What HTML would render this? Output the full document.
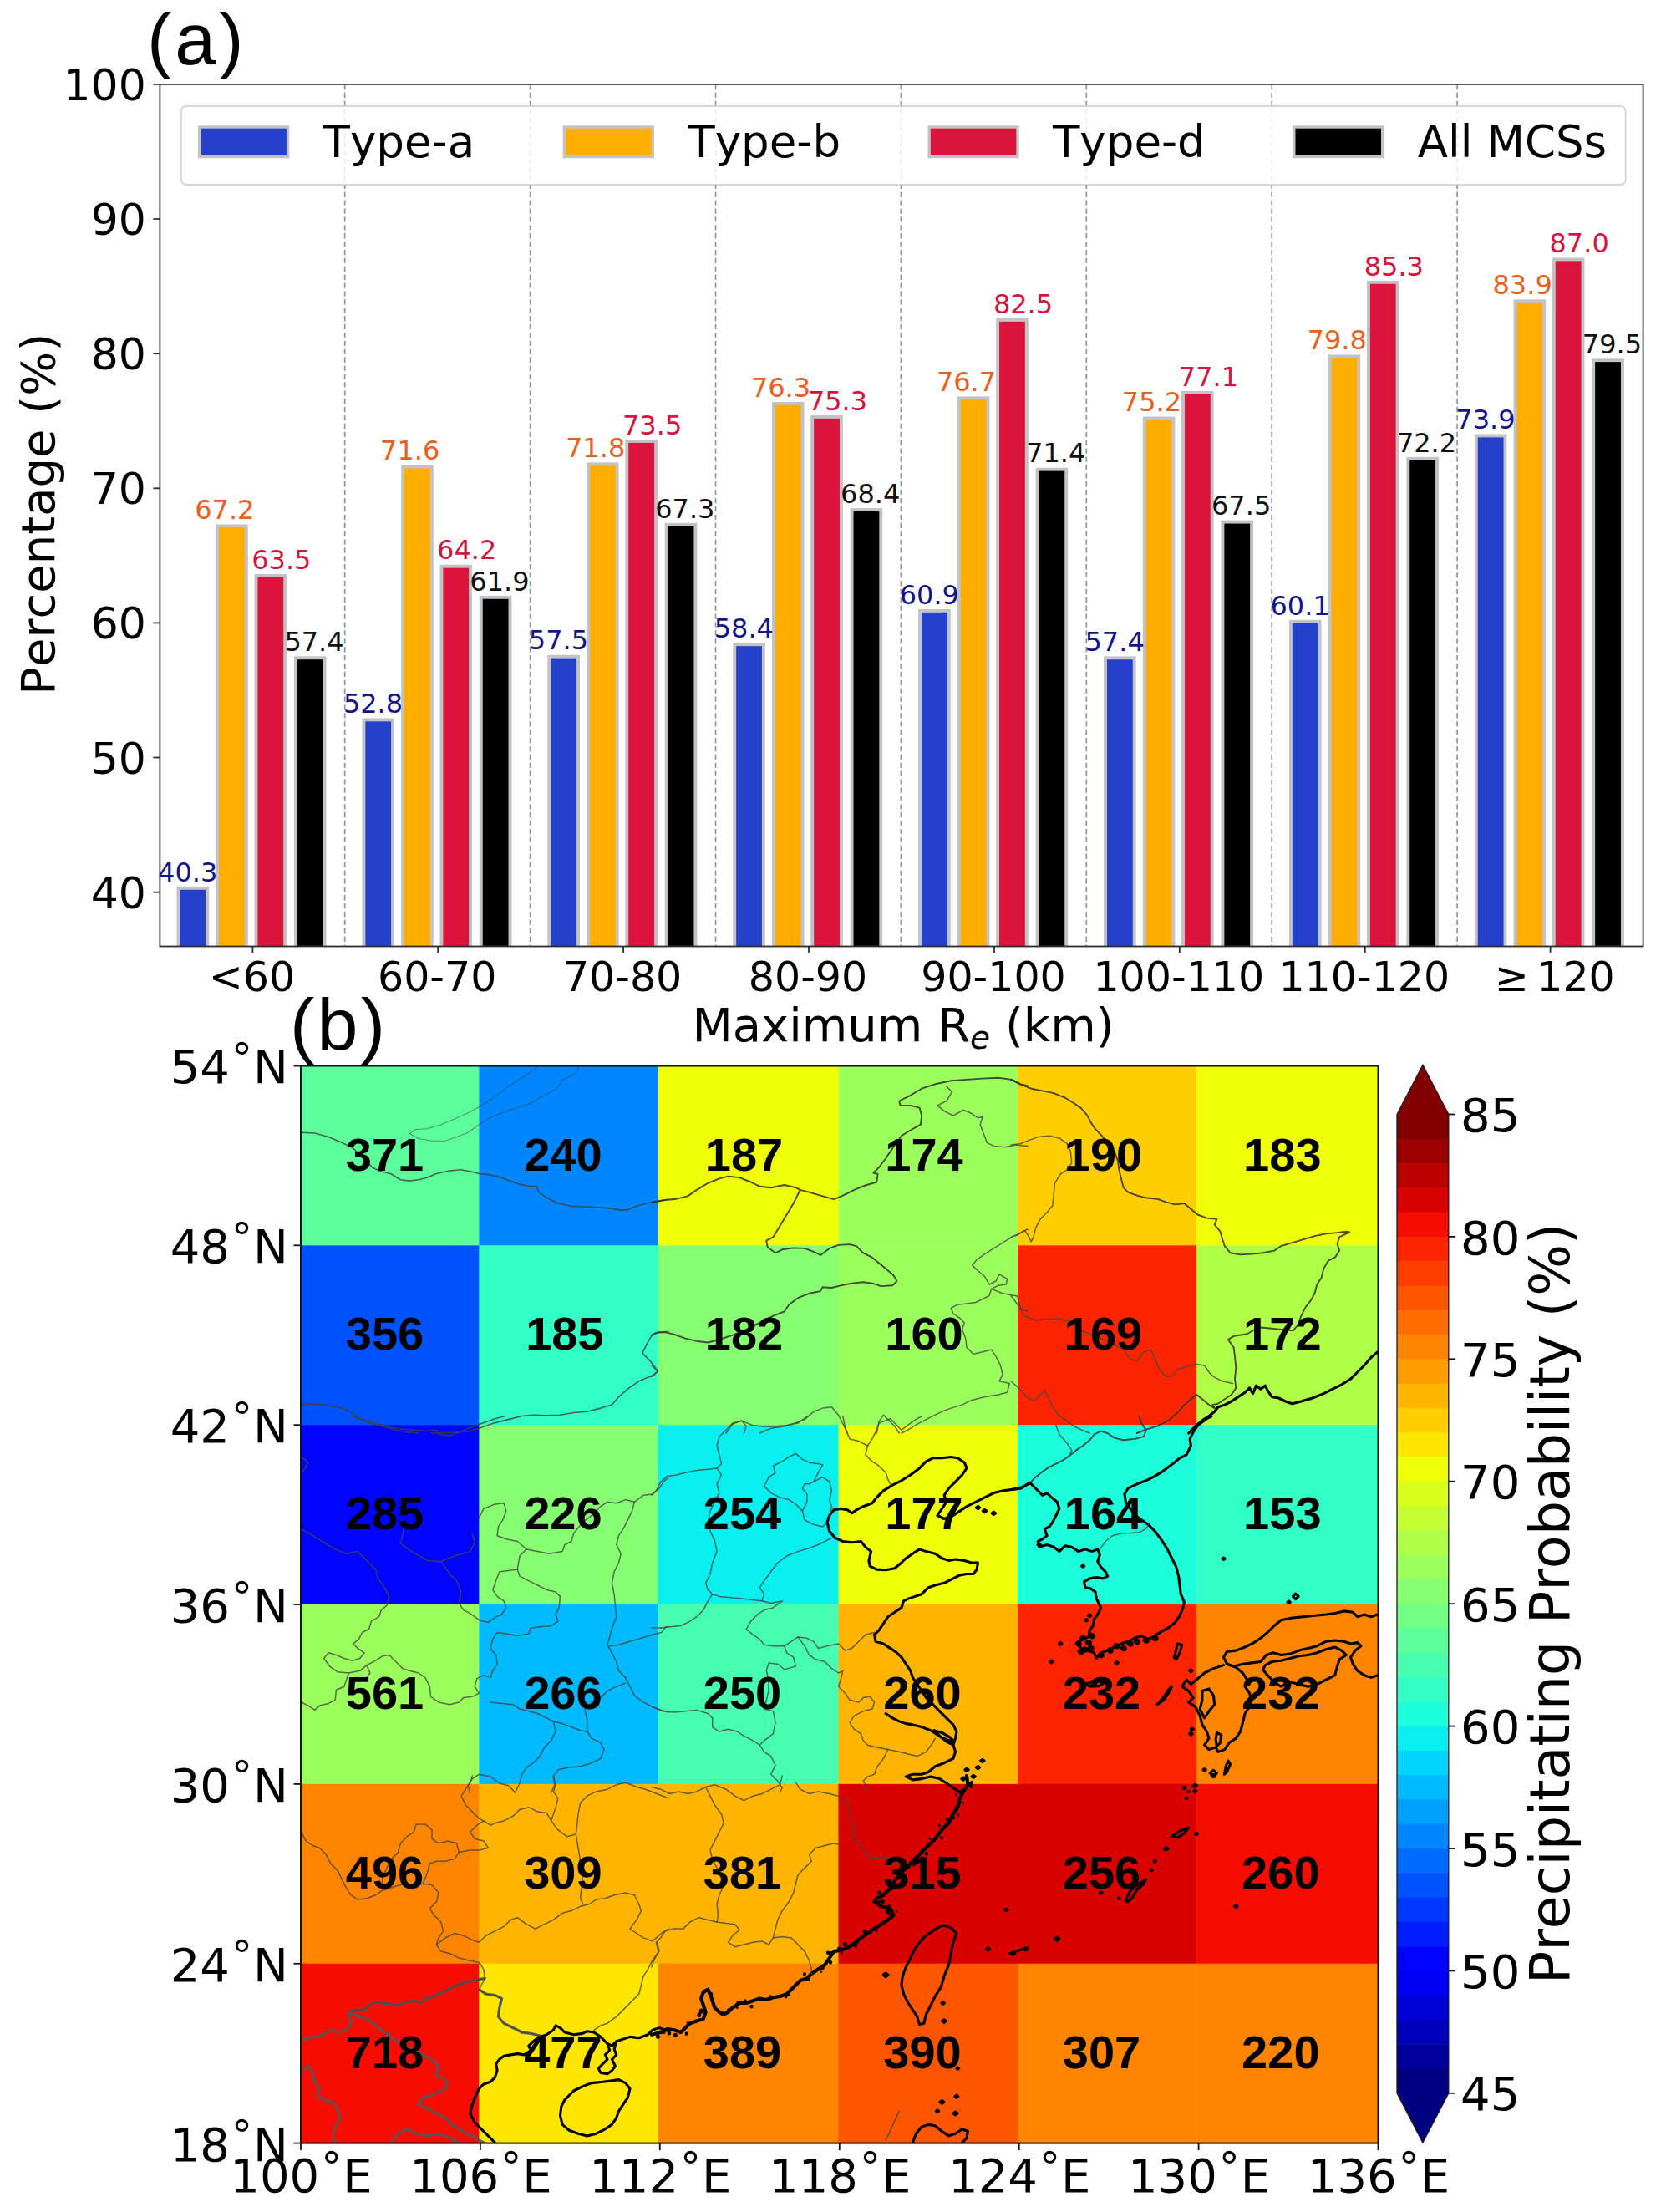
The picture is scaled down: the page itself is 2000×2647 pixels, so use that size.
<!DOCTYPE html>
<html lang="en"><head><meta charset="utf-8"><title>Figure</title>
<style>html,body{margin:0;padding:0;background:#fff}body{width:2000px;height:2647px;overflow:hidden}svg{display:block}text{font-kerning:none}</style>
</head><body>
<svg width="2000" height="2647" viewBox="0 0 2000 2647"><defs><clipPath id="mapclip"><rect x="360.0" y="1275.5" width="1289.5" height="1289.1"/></clipPath></defs>
<rect x="0" y="0" width="2000" height="2647" fill="#fff"/>
<line x1="412.7" y1="100.9" x2="412.7" y2="1132.5" stroke="#959595" stroke-width="1.7" stroke-dasharray="6.3 3.6"/>
<line x1="634.6" y1="100.9" x2="634.6" y2="1132.5" stroke="#959595" stroke-width="1.7" stroke-dasharray="6.3 3.6"/>
<line x1="856.5" y1="100.9" x2="856.5" y2="1132.5" stroke="#959595" stroke-width="1.7" stroke-dasharray="6.3 3.6"/>
<line x1="1078.4" y1="100.9" x2="1078.4" y2="1132.5" stroke="#959595" stroke-width="1.7" stroke-dasharray="6.3 3.6"/>
<line x1="1300.3" y1="100.9" x2="1300.3" y2="1132.5" stroke="#959595" stroke-width="1.7" stroke-dasharray="6.3 3.6"/>
<line x1="1522.2" y1="100.9" x2="1522.2" y2="1132.5" stroke="#959595" stroke-width="1.7" stroke-dasharray="6.3 3.6"/>
<line x1="1744.1" y1="100.9" x2="1744.1" y2="1132.5" stroke="#959595" stroke-width="1.7" stroke-dasharray="6.3 3.6"/>
<rect x="213.5" y="1062.8" width="34.7" height="75.7" fill="#2541cb" stroke="#c3c3c7" stroke-width="3.9"/>
<rect x="435.4" y="861.4" width="34.7" height="277.1" fill="#2541cb" stroke="#c3c3c7" stroke-width="3.9"/>
<rect x="657.3" y="785.7" width="34.7" height="352.8" fill="#2541cb" stroke="#c3c3c7" stroke-width="3.9"/>
<rect x="879.2" y="771.2" width="34.7" height="367.3" fill="#2541cb" stroke="#c3c3c7" stroke-width="3.9"/>
<rect x="1101.1" y="730.9" width="34.7" height="407.6" fill="#2541cb" stroke="#c3c3c7" stroke-width="3.9"/>
<rect x="1323.0" y="787.3" width="34.7" height="351.2" fill="#2541cb" stroke="#c3c3c7" stroke-width="3.9"/>
<rect x="1544.9" y="743.8" width="34.7" height="394.7" fill="#2541cb" stroke="#c3c3c7" stroke-width="3.9"/>
<rect x="1766.8" y="521.4" width="34.7" height="617.1" fill="#2541cb" stroke="#c3c3c7" stroke-width="3.9"/>
<rect x="260.2" y="629.4" width="34.7" height="509.1" fill="#ffad00" stroke="#c3c3c7" stroke-width="3.9"/>
<rect x="482.1" y="558.5" width="34.7" height="580.0" fill="#ffad00" stroke="#c3c3c7" stroke-width="3.9"/>
<rect x="704.0" y="555.3" width="34.7" height="583.2" fill="#ffad00" stroke="#c3c3c7" stroke-width="3.9"/>
<rect x="925.9" y="482.8" width="34.7" height="655.7" fill="#ffad00" stroke="#c3c3c7" stroke-width="3.9"/>
<rect x="1147.8" y="476.3" width="34.7" height="662.2" fill="#ffad00" stroke="#c3c3c7" stroke-width="3.9"/>
<rect x="1369.7" y="500.5" width="34.7" height="638.0" fill="#ffad00" stroke="#c3c3c7" stroke-width="3.9"/>
<rect x="1591.6" y="426.4" width="34.7" height="712.1" fill="#ffad00" stroke="#c3c3c7" stroke-width="3.9"/>
<rect x="1813.5" y="360.3" width="34.7" height="778.2" fill="#ffad00" stroke="#c3c3c7" stroke-width="3.9"/>
<rect x="306.5" y="689.0" width="34.7" height="449.5" fill="#dc143c" stroke="#c3c3c7" stroke-width="3.9"/>
<rect x="528.4" y="677.7" width="34.7" height="460.8" fill="#dc143c" stroke="#c3c3c7" stroke-width="3.9"/>
<rect x="750.3" y="527.9" width="34.7" height="610.6" fill="#dc143c" stroke="#c3c3c7" stroke-width="3.9"/>
<rect x="972.2" y="498.9" width="34.7" height="639.6" fill="#dc143c" stroke="#c3c3c7" stroke-width="3.9"/>
<rect x="1194.1" y="382.9" width="34.7" height="755.6" fill="#dc143c" stroke="#c3c3c7" stroke-width="3.9"/>
<rect x="1416.0" y="469.9" width="34.7" height="668.6" fill="#dc143c" stroke="#c3c3c7" stroke-width="3.9"/>
<rect x="1637.9" y="337.8" width="34.7" height="800.7" fill="#dc143c" stroke="#c3c3c7" stroke-width="3.9"/>
<rect x="1859.8" y="310.4" width="34.7" height="828.1" fill="#dc143c" stroke="#c3c3c7" stroke-width="3.9"/>
<rect x="353.9" y="787.3" width="34.7" height="351.2" fill="#000000" stroke="#c3c3c7" stroke-width="3.9"/>
<rect x="575.8" y="714.8" width="34.7" height="423.7" fill="#000000" stroke="#c3c3c7" stroke-width="3.9"/>
<rect x="797.7" y="627.8" width="34.7" height="510.7" fill="#000000" stroke="#c3c3c7" stroke-width="3.9"/>
<rect x="1019.6" y="610.1" width="34.7" height="528.4" fill="#000000" stroke="#c3c3c7" stroke-width="3.9"/>
<rect x="1241.5" y="561.7" width="34.7" height="576.8" fill="#000000" stroke="#c3c3c7" stroke-width="3.9"/>
<rect x="1463.4" y="624.6" width="34.7" height="513.9" fill="#000000" stroke="#c3c3c7" stroke-width="3.9"/>
<rect x="1685.3" y="548.8" width="34.7" height="589.7" fill="#000000" stroke="#c3c3c7" stroke-width="3.9"/>
<rect x="1907.2" y="431.2" width="34.7" height="707.3" fill="#000000" stroke="#c3c3c7" stroke-width="3.9"/>
<rect x="188.4" y="1132.5" width="1781.1999999999998" height="12" fill="#fff"/>
<text x="189.1" y="1054.5" style="font-family:'DejaVu Sans','Liberation Sans',sans-serif;font-size:32px" fill="#15158a">40.3</text>
<text x="410.9" y="853.1" style="font-family:'DejaVu Sans','Liberation Sans',sans-serif;font-size:32px" fill="#15158a">52.8</text>
<text x="632.8" y="777.4" style="font-family:'DejaVu Sans','Liberation Sans',sans-serif;font-size:32px" fill="#15158a">57.5</text>
<text x="854.7" y="762.9" style="font-family:'DejaVu Sans','Liberation Sans',sans-serif;font-size:32px" fill="#15158a">58.4</text>
<text x="1076.7" y="722.6" style="font-family:'DejaVu Sans','Liberation Sans',sans-serif;font-size:32px" fill="#15158a">60.9</text>
<text x="1298.5" y="779.0" style="font-family:'DejaVu Sans','Liberation Sans',sans-serif;font-size:32px" fill="#15158a">57.4</text>
<text x="1520.5" y="735.5" style="font-family:'DejaVu Sans','Liberation Sans',sans-serif;font-size:32px" fill="#15158a">60.1</text>
<text x="1742.3" y="513.1" style="font-family:'DejaVu Sans','Liberation Sans',sans-serif;font-size:32px" fill="#15158a">73.9</text>
<text x="233.2" y="621.1" style="font-family:'DejaVu Sans','Liberation Sans',sans-serif;font-size:32px" fill="#e8601c">67.2</text>
<text x="455.1" y="550.2" style="font-family:'DejaVu Sans','Liberation Sans',sans-serif;font-size:32px" fill="#e8601c">71.6</text>
<text x="677.0" y="547.0" style="font-family:'DejaVu Sans','Liberation Sans',sans-serif;font-size:32px" fill="#e8601c">71.8</text>
<text x="898.9" y="474.5" style="font-family:'DejaVu Sans','Liberation Sans',sans-serif;font-size:32px" fill="#e8601c">76.3</text>
<text x="1120.9" y="468.0" style="font-family:'DejaVu Sans','Liberation Sans',sans-serif;font-size:32px" fill="#e8601c">76.7</text>
<text x="1342.8" y="492.2" style="font-family:'DejaVu Sans','Liberation Sans',sans-serif;font-size:32px" fill="#e8601c">75.2</text>
<text x="1564.7" y="418.1" style="font-family:'DejaVu Sans','Liberation Sans',sans-serif;font-size:32px" fill="#e8601c">79.8</text>
<text x="1786.5" y="352.0" style="font-family:'DejaVu Sans','Liberation Sans',sans-serif;font-size:32px" fill="#e8601c">83.9</text>
<text x="301.2" y="680.7" style="font-family:'DejaVu Sans','Liberation Sans',sans-serif;font-size:32px" fill="#d3163f">63.5</text>
<text x="523.1" y="669.4" style="font-family:'DejaVu Sans','Liberation Sans',sans-serif;font-size:32px" fill="#d3163f">64.2</text>
<text x="745.0" y="519.6" style="font-family:'DejaVu Sans','Liberation Sans',sans-serif;font-size:32px" fill="#d3163f">73.5</text>
<text x="966.9" y="490.6" style="font-family:'DejaVu Sans','Liberation Sans',sans-serif;font-size:32px" fill="#d3163f">75.3</text>
<text x="1188.9" y="374.6" style="font-family:'DejaVu Sans','Liberation Sans',sans-serif;font-size:32px" fill="#d3163f">82.5</text>
<text x="1410.8" y="461.6" style="font-family:'DejaVu Sans','Liberation Sans',sans-serif;font-size:32px" fill="#d3163f">77.1</text>
<text x="1632.7" y="329.5" style="font-family:'DejaVu Sans','Liberation Sans',sans-serif;font-size:32px" fill="#d3163f">85.3</text>
<text x="1854.5" y="302.1" style="font-family:'DejaVu Sans','Liberation Sans',sans-serif;font-size:32px" fill="#d3163f">87.0</text>
<text x="340.4" y="779.0" style="font-family:'DejaVu Sans','Liberation Sans',sans-serif;font-size:32px" fill="#111111">57.4</text>
<text x="562.3" y="706.5" style="font-family:'DejaVu Sans','Liberation Sans',sans-serif;font-size:32px" fill="#111111">61.9</text>
<text x="784.2" y="619.5" style="font-family:'DejaVu Sans','Liberation Sans',sans-serif;font-size:32px" fill="#111111">67.3</text>
<text x="1006.1" y="601.8" style="font-family:'DejaVu Sans','Liberation Sans',sans-serif;font-size:32px" fill="#111111">68.4</text>
<text x="1228.1" y="553.4" style="font-family:'DejaVu Sans','Liberation Sans',sans-serif;font-size:32px" fill="#111111">71.4</text>
<text x="1450.0" y="616.3" style="font-family:'DejaVu Sans','Liberation Sans',sans-serif;font-size:32px" fill="#111111">67.5</text>
<text x="1671.9" y="540.5" style="font-family:'DejaVu Sans','Liberation Sans',sans-serif;font-size:32px" fill="#111111">72.2</text>
<text x="1893.8" y="422.9" style="font-family:'DejaVu Sans','Liberation Sans',sans-serif;font-size:32px" fill="#111111">79.5</text>
<rect x="217" y="127" width="1728.6" height="94" rx="6" ry="6" fill="#fff" fill-opacity="0.82" stroke="#cccccc" stroke-opacity="0.8" stroke-width="1.8"/>
<rect x="238.7" y="152.0" width="105.9" height="35.5" fill="#2541cb" stroke="#c3c3c7" stroke-width="3.4"/>
<text x="386.6" y="188.4" style="font-family:'DejaVu Sans','Liberation Sans',sans-serif;font-size:53px" fill="#000">Type-a</text>
<rect x="675.4" y="152.0" width="105.9" height="35.5" fill="#ffad00" stroke="#c3c3c7" stroke-width="3.4"/>
<text x="823.3" y="188.4" style="font-family:'DejaVu Sans','Liberation Sans',sans-serif;font-size:53px" fill="#000">Type-b</text>
<rect x="1112.1" y="152.0" width="105.9" height="35.5" fill="#dc143c" stroke="#c3c3c7" stroke-width="3.4"/>
<text x="1260.0" y="188.4" style="font-family:'DejaVu Sans','Liberation Sans',sans-serif;font-size:53px" fill="#000">Type-d</text>
<rect x="1548.8" y="152.0" width="105.9" height="35.5" fill="#000000" stroke="#c3c3c7" stroke-width="3.4"/>
<text x="1696.7" y="188.4" style="font-family:'DejaVu Sans','Liberation Sans',sans-serif;font-size:53px" fill="#000">All MCSs</text>
<rect x="191.4" y="100.9" width="1775.2" height="1031.6" fill="none" stroke="#2e2e2e" stroke-width="1.8"/>
<line x1="183.4" y1="1067.7" x2="191.4" y2="1067.7" stroke="#2e2e2e" stroke-width="1.8"/>
<text x="174.8" y="1086.7" text-anchor="end" style="font-family:'DejaVu Sans','Liberation Sans',sans-serif;font-size:52px" fill="#000">40</text>
<line x1="183.4" y1="906.5" x2="191.4" y2="906.5" stroke="#2e2e2e" stroke-width="1.8"/>
<text x="174.8" y="925.5" text-anchor="end" style="font-family:'DejaVu Sans','Liberation Sans',sans-serif;font-size:52px" fill="#000">50</text>
<line x1="183.4" y1="745.4" x2="191.4" y2="745.4" stroke="#2e2e2e" stroke-width="1.8"/>
<text x="174.8" y="764.4" text-anchor="end" style="font-family:'DejaVu Sans','Liberation Sans',sans-serif;font-size:52px" fill="#000">60</text>
<line x1="183.4" y1="584.3" x2="191.4" y2="584.3" stroke="#2e2e2e" stroke-width="1.8"/>
<text x="174.8" y="603.3" text-anchor="end" style="font-family:'DejaVu Sans','Liberation Sans',sans-serif;font-size:52px" fill="#000">70</text>
<line x1="183.4" y1="423.2" x2="191.4" y2="423.2" stroke="#2e2e2e" stroke-width="1.8"/>
<text x="174.8" y="442.2" text-anchor="end" style="font-family:'DejaVu Sans','Liberation Sans',sans-serif;font-size:52px" fill="#000">80</text>
<line x1="183.4" y1="262.0" x2="191.4" y2="262.0" stroke="#2e2e2e" stroke-width="1.8"/>
<text x="174.8" y="281.0" text-anchor="end" style="font-family:'DejaVu Sans','Liberation Sans',sans-serif;font-size:52px" fill="#000">90</text>
<line x1="183.4" y1="100.9" x2="191.4" y2="100.9" stroke="#2e2e2e" stroke-width="1.8"/>
<text x="174.8" y="119.9" text-anchor="end" style="font-family:'DejaVu Sans','Liberation Sans',sans-serif;font-size:52px" fill="#000">100</text>
<line x1="302.4" y1="1132.5" x2="302.4" y2="1140.1" stroke="#2e2e2e" stroke-width="1.8"/>
<text x="301.4" y="1186.3" text-anchor="middle" style="font-family:'DejaVu Sans','Liberation Sans',sans-serif;font-size:49px" fill="#000">&lt;60</text>
<line x1="524.2" y1="1132.5" x2="524.2" y2="1140.1" stroke="#2e2e2e" stroke-width="1.8"/>
<text x="523.2" y="1186.3" text-anchor="middle" style="font-family:'DejaVu Sans','Liberation Sans',sans-serif;font-size:49px" fill="#000">60-70</text>
<line x1="746.1" y1="1132.5" x2="746.1" y2="1140.1" stroke="#2e2e2e" stroke-width="1.8"/>
<text x="745.1" y="1186.3" text-anchor="middle" style="font-family:'DejaVu Sans','Liberation Sans',sans-serif;font-size:49px" fill="#000">70-80</text>
<line x1="968.0" y1="1132.5" x2="968.0" y2="1140.1" stroke="#2e2e2e" stroke-width="1.8"/>
<text x="967.0" y="1186.3" text-anchor="middle" style="font-family:'DejaVu Sans','Liberation Sans',sans-serif;font-size:49px" fill="#000">80-90</text>
<line x1="1190.0" y1="1132.5" x2="1190.0" y2="1140.1" stroke="#2e2e2e" stroke-width="1.8"/>
<text x="1189.0" y="1186.3" text-anchor="middle" style="font-family:'DejaVu Sans','Liberation Sans',sans-serif;font-size:49px" fill="#000">90-100</text>
<line x1="1411.8" y1="1132.5" x2="1411.8" y2="1140.1" stroke="#2e2e2e" stroke-width="1.8"/>
<text x="1410.8" y="1186.3" text-anchor="middle" style="font-family:'DejaVu Sans','Liberation Sans',sans-serif;font-size:49px" fill="#000">100-110</text>
<line x1="1633.8" y1="1132.5" x2="1633.8" y2="1140.1" stroke="#2e2e2e" stroke-width="1.8"/>
<text x="1632.8" y="1186.3" text-anchor="middle" style="font-family:'DejaVu Sans','Liberation Sans',sans-serif;font-size:49px" fill="#000">110-120</text>
<line x1="1855.6" y1="1132.5" x2="1855.6" y2="1140.1" stroke="#2e2e2e" stroke-width="1.8"/>
<text x="1932.8" y="1186.3" text-anchor="end" style="font-family:'DejaVu Sans','Liberation Sans',sans-serif;font-size:49px" fill="#000">≥<tspan dx="9.5">120</tspan></text>
<text transform="translate(64.7,615.2) rotate(-90)" text-anchor="middle" style="font-family:'DejaVu Sans','Liberation Sans',sans-serif;font-size:56px" fill="#000">Percentage (%)</text>
<text x="1081" y="1246.4" text-anchor="middle" style="font-family:'DejaVu Sans','Liberation Sans',sans-serif;font-size:56px" fill="#000">Maximum R<tspan dy="9" style="font-size:39px;font-style:italic">e</tspan><tspan dy="-9"> (km)</tspan></text>
<text x="176" y="77" style="font-family:'Liberation Sans',Arial,sans-serif;font-size:88px;letter-spacing:4px" fill="#000">(a)</text>
<text x="347" y="1255.5" style="font-family:'Liberation Sans',Arial,sans-serif;font-size:88px;letter-spacing:3.3px" fill="#000">(b)</text>
<rect x="360.00" y="1275.50" width="213.90" height="215.35" fill="#5cff9b"/>
<rect x="573.40" y="1275.50" width="215.10" height="215.35" fill="#0086ff"/>
<rect x="788.00" y="1275.50" width="216.00" height="215.35" fill="#effe07"/>
<rect x="1003.50" y="1275.50" width="215.00" height="215.35" fill="#9bff5c"/>
<rect x="1218.00" y="1275.50" width="214.80" height="215.35" fill="#ffce00"/>
<rect x="1432.30" y="1275.50" width="217.70" height="215.35" fill="#effe07"/>
<rect x="360.00" y="1490.35" width="213.90" height="215.35" fill="#0052ff"/>
<rect x="573.40" y="1490.35" width="215.10" height="215.35" fill="#32ffc5"/>
<rect x="788.00" y="1490.35" width="216.00" height="215.35" fill="#86ff71"/>
<rect x="1003.50" y="1490.35" width="215.00" height="215.35" fill="#9bff5c"/>
<rect x="1218.00" y="1490.35" width="214.80" height="215.35" fill="#ff2400"/>
<rect x="1432.30" y="1490.35" width="217.70" height="215.35" fill="#b0ff47"/>
<rect x="360.00" y="1705.20" width="213.90" height="215.35" fill="#0003ff"/>
<rect x="573.40" y="1705.20" width="215.10" height="215.35" fill="#86ff71"/>
<rect x="788.00" y="1705.20" width="216.00" height="215.35" fill="#07efef"/>
<rect x="1003.50" y="1705.20" width="215.00" height="215.35" fill="#effe07"/>
<rect x="1218.00" y="1705.20" width="214.80" height="215.35" fill="#1cffda"/>
<rect x="1432.30" y="1705.20" width="217.70" height="215.35" fill="#32ffc5"/>
<rect x="360.00" y="1920.05" width="213.90" height="215.35" fill="#9bff5c"/>
<rect x="573.40" y="1920.05" width="215.10" height="215.35" fill="#00baff"/>
<rect x="788.00" y="1920.05" width="216.00" height="215.35" fill="#47ffb0"/>
<rect x="1003.50" y="1920.05" width="215.00" height="215.35" fill="#ffb500"/>
<rect x="1218.00" y="1920.05" width="214.80" height="215.35" fill="#ff2400"/>
<rect x="1432.30" y="1920.05" width="217.70" height="215.35" fill="#ff8500"/>
<rect x="360.00" y="2134.90" width="213.90" height="215.35" fill="#ff8500"/>
<rect x="573.40" y="2134.90" width="215.10" height="215.35" fill="#ffb500"/>
<rect x="788.00" y="2134.90" width="216.00" height="215.35" fill="#ffb500"/>
<rect x="1003.50" y="2134.90" width="215.00" height="215.35" fill="#d90000"/>
<rect x="1218.00" y="2134.90" width="214.80" height="215.35" fill="#d90000"/>
<rect x="1432.30" y="2134.90" width="217.70" height="215.35" fill="#f60c00"/>
<rect x="360.00" y="2349.75" width="213.90" height="215.35" fill="#f60c00"/>
<rect x="573.40" y="2349.75" width="215.10" height="215.35" fill="#ffe600"/>
<rect x="788.00" y="2349.75" width="216.00" height="215.35" fill="#ff8500"/>
<rect x="1003.50" y="2349.75" width="215.00" height="215.35" fill="#ff5500"/>
<rect x="1218.00" y="2349.75" width="214.80" height="215.35" fill="#ff8500"/>
<rect x="1432.30" y="2349.75" width="217.70" height="215.35" fill="#ff8500"/>
<!--MAPLINES-->
<g clip-path="url(#mapclip)" fill="none" stroke-linejoin="round" stroke-linecap="round">
<path d="M360.2 1355.2 L376.9 1356.0 L393.1 1360.6 L407.9 1366.8 L420.6 1372.7 L433.5 1383.5 L445.6 1397.0 L453.7 1401.0 L468.5 1405.0 L479.3 1411.8 L490.0 1413.1 L500.8 1411.8 L511.6 1409.1 L522.4 1404.5 L538.5 1401.0 L550.6 1399.7 L562.7 1401.8 L573.5 1404.5 L584.3 1405.6 L597.8 1408.3 L608.5 1412.6 L619.3 1416.3 L630.1 1419.0 L642.2 1419.8 L644.9 1426.6 L654.3 1433.3 L667.8 1440.0 L683.9 1443.3 L700.1 1444.1 L716.3 1444.9 L732.4 1446.0 L741.8 1448.1 L751.3 1447.6 L762.0 1443.3 L775.5 1439.5 L787.6 1437.4 L800.0 1435.2" stroke="#404040" stroke-opacity="0.82" stroke-width="1.6"/>
<path d="M490.0 1356.6 L496.8 1351.7 L511.6 1350.6 L527.7 1345.8 L543.9 1339.1 L560.1 1331.8 L573.5 1324.8 L587.0 1316.2 L597.8 1308.1 L608.5 1300.0 L619.3 1293.3 L630.1 1286.5 L639.5 1279.8 L643.5 1275.8" stroke="#454545" stroke-opacity="0.55" stroke-width="1.1"/>
<path d="M490.0 1356.6 L500.8 1362.5 L517.0 1365.2 L533.1 1365.2 L546.6 1360.6 L560.1 1355.2 L573.5 1345.8 L587.0 1337.2 L603.1 1331.0 L619.3 1325.6 L635.5 1320.2 L646.2 1313.5 L657.0 1308.1 L667.8 1301.4 L671.8 1293.3 L681.2 1287.9 L689.9 1283.9 L693.4 1275.8" stroke="#454545" stroke-opacity="0.55" stroke-width="1.1"/>
<path d="M800.0 1593.5 L787.6 1594.1 L779.5 1598.9 L774.2 1608.4 L768.8 1619.1 L778.2 1628.6 L787.6 1640.7 L780.9 1646.1 L764.7 1652.8 L751.3 1662.2 L740.5 1671.6 L732.4 1681.1 L718.9 1685.1 L702.8 1689.2 L686.6 1690.5 L670.5 1693.2 L654.3 1693.7 L638.2 1693.2 L624.7 1694.5 L608.5 1698.6 L592.4 1702.6 L573.5 1709.3 L562.7 1712.6 L538.5 1714.2 L517.0 1715.0" stroke="#404040" stroke-opacity="0.82" stroke-width="1.6"/>
<path d="M360.2 1681.1 L376.9 1679.7 L393.1 1681.9 L409.2 1685.1 L422.7 1690.5 L430.8 1698.6 L441.6 1702.6 L457.7 1706.7 L471.2 1710.7 L484.7 1713.4 L500.8 1715.0" stroke="#404040" stroke-opacity="0.82" stroke-width="1.6"/>
<path d="M780.0 1438.7 L796.2 1436.0 L809.6 1434.7 L823.1 1431.4 L833.9 1423.9 L847.3 1415.8 L860.8 1410.4 L871.6 1407.7 L885.0 1409.1 L898.5 1414.5 L909.3 1419.8 L922.7 1421.2 L938.9 1418.0 L952.4 1421.2 L957.7 1423.9 L968.5 1426.6 L982.0 1430.6 L998.1 1435.2 L1008.9 1430.6 L1022.4 1423.9 L1035.8 1418.5 L1049.3 1414.5 L1050.6 1405.0 L1045.3 1403.7 L1052.0 1397.0 L1060.1 1386.2 L1065.5 1378.1 L1072.2 1368.7 L1078.9 1359.3 L1089.7 1352.5 L1101.8 1345.8 L1103.2 1335.0 L1100.5 1325.6 L1089.7 1322.9 L1077.6 1322.9 L1076.2 1317.5 L1089.7 1310.8 L1103.2 1302.7 L1119.3 1297.3 L1138.2 1293.3 L1157.0 1291.9 L1175.9 1290.6 L1194.7 1289.8 L1210.9 1291.9 L1221.7 1297.3 L1230.0 1299.5" stroke="#333" stroke-opacity="0.88" stroke-width="1.9"/>
<path d="M957.7 1423.9 L949.7 1440.0 L941.6 1453.5 L933.5 1467.0 L925.4 1480.4 L917.3 1484.5 L918.7 1492.6 L928.1 1499.3 L936.2 1495.3 L949.7 1493.4 L963.1 1493.9 L973.9 1497.9 L982.0 1502.0 L992.7 1493.9 L1003.5 1489.9 L1017.0 1489.1 L1025.1 1491.2 L1033.1 1499.3 L1043.9 1504.7 L1052.0 1511.4 L1060.1 1518.1 L1069.5 1526.2 L1073.5 1533.0 L1068.2 1538.3 L1054.7 1539.1 L1043.9 1535.6 L1033.1 1534.3 L1019.7 1535.6 L1006.2 1538.3 L995.4 1541.0 L984.7 1540.2 L982.0 1545.1 L968.5 1547.8 L955.0 1553.2 L944.3 1561.2 L938.9 1569.3 L925.4 1574.7 L909.3 1582.8 L893.1 1590.9 L876.9 1597.6 L860.8 1603.0 L847.3 1606.5 L833.9 1604.9 L820.4 1601.6 L806.9 1596.8 L796.2 1594.1 L785.4 1594.9 L780.0 1597.6" stroke="#333" stroke-opacity="0.88" stroke-width="1.9"/>
<path d="M1132.8 1300.0 L1139.5 1306.7 L1132.8 1317.5 L1122.0 1322.9 L1130.1 1329.6 L1140.9 1335.0 L1153.0 1328.3 L1162.4 1332.3 L1170.5 1337.7 L1175.9 1336.4 L1173.2 1345.8 L1177.2 1356.6 L1181.3 1367.3 L1189.3 1371.4 L1202.8 1372.7 L1216.3 1370.0 L1230.0 1371.4" stroke="#454545" stroke-opacity="0.8" stroke-width="1.5"/>
<path d="M1230.0 1471.0 L1221.7 1475.1 L1210.9 1480.4 L1200.1 1487.2 L1189.3 1493.9 L1178.6 1500.6 L1169.1 1507.4 L1163.8 1514.1 L1170.5 1520.8 L1178.6 1527.6 L1184.0 1537.0 L1192.0 1533.0 L1196.1 1524.9 L1205.5 1530.3 L1204.2 1537.0 L1194.7 1538.3 L1186.6 1542.4 L1184.0 1550.5 L1175.9 1554.5 L1167.8 1558.5 L1157.0 1559.9 L1146.3 1561.2 L1138.2 1565.3 L1140.9 1572.0 L1148.9 1577.4 L1154.3 1582.8 L1151.6 1590.9 L1155.7 1601.6 L1157.0 1612.4 L1165.1 1620.5 L1175.9 1617.8 L1186.6 1615.1 L1192.0 1623.2 L1197.4 1633.9 L1200.1 1644.7 L1196.1 1652.8 L1208.2 1655.5 L1205.5 1666.3 L1194.7 1669.0 L1178.6 1671.6 L1162.4 1675.7 L1151.6 1681.1 L1138.2 1685.1 L1127.4 1689.2 L1113.9 1695.9 L1100.5 1702.6 L1089.7 1709.3 L1078.9 1715.0" stroke="#454545" stroke-opacity="0.8" stroke-width="1.5"/>
<path d="M1186.6 1542.4 L1200.1 1547.8 L1217.6 1551.0 L1221.7 1566.6 L1230.0 1569.3" stroke="#454545" stroke-opacity="0.8" stroke-width="1.5"/>
<path d="M1049.3 1715.0 L1052.0 1701.3 L1057.4 1693.2 L1062.8 1698.6 L1070.8 1706.7 L1076.2 1715.0" stroke="#454545" stroke-opacity="0.8" stroke-width="1.5"/>
<path d="M909.3 1715.0 L922.7 1709.3 L938.9 1706.7 L952.4 1702.6 L963.1 1698.6 L973.9 1689.2 L984.7 1685.1 L995.4 1683.8 L1003.5 1693.2 L1008.9 1704.0 L1014.3 1715.0" stroke="#454545" stroke-opacity="0.8" stroke-width="1.5"/>
<path d="M868.9 1715.0 L876.9 1704.0 L887.7 1699.9 L893.1 1706.7 L890.4 1715.0" stroke="#454545" stroke-opacity="0.8" stroke-width="1.5"/>
<path d="M780.0 1633.9 L786.7 1640.7 L782.7 1646.1 L780.0 1647.4" stroke="#454545" stroke-opacity="0.8" stroke-width="1.5"/>
<path d="M1210.0 1291.9 L1220.8 1297.3 L1234.2 1302.7 L1247.7 1305.4 L1261.2 1308.1 L1274.6 1313.5 L1285.4 1320.2 L1293.5 1325.6 L1301.6 1335.0 L1305.6 1343.1 L1311.0 1351.2 L1317.7 1357.9 L1325.8 1367.3 L1333.9 1378.1 L1337.9 1388.9 L1339.3 1399.7 L1342.0 1410.4 L1344.7 1421.2 L1350.0 1426.6 L1360.8 1430.6 L1371.6 1433.3 L1385.0 1434.7 L1395.8 1438.7 L1406.6 1441.4 L1417.4 1440.0 L1425.4 1446.8 L1433.5 1453.5 L1444.3 1457.6 L1456.4 1458.9 L1453.7 1465.6 L1460.5 1473.7 L1463.1 1483.1 L1465.8 1491.2 L1472.6 1499.3 L1484.7 1501.4 L1498.2 1500.6 L1511.6 1499.3 L1525.1 1496.6 L1533.2 1491.2 L1546.6 1487.2 L1560.1 1483.1 L1573.6 1479.1 L1587.0 1476.4 L1600.5 1475.1 L1611.3 1473.7 L1615.3 1474.5 L1608.6 1477.7 L1603.2 1480.4 L1600.5 1488.5 L1603.2 1496.6 L1597.8 1504.7 L1589.7 1508.7 L1584.3 1518.1 L1581.6 1528.9 L1576.3 1537.0 L1573.6 1547.8 L1568.2 1557.2 L1562.8 1563.9 L1557.4 1574.7 L1553.4 1585.5 L1548.0 1592.2 L1533.2 1590.9 L1519.7 1589.5 L1506.2 1588.2 L1492.8 1596.2 L1476.6 1598.9 L1469.9 1603.0 L1476.6 1612.4 L1478.0 1623.2 L1479.3 1636.6 L1478.0 1650.1 L1479.3 1660.9 L1473.9 1669.0 L1465.8 1674.3 L1457.8 1679.7 L1451.0 1681.1 L1453.7 1685.1" stroke="#333" stroke-opacity="0.88" stroke-width="1.9"/>
<path d="M1649.0 1617.8 L1640.9 1624.5 L1632.8 1633.9 L1624.7 1642.0 L1616.6 1650.1 L1605.9 1656.8 L1595.1 1662.2 L1584.3 1667.6 L1570.9 1673.0 L1557.4 1677.0 L1546.6 1679.7 L1538.5 1677.0 L1530.5 1673.0 L1522.4 1671.6 L1517.0 1663.6 L1514.3 1658.2 L1508.9 1662.2 L1503.5 1658.2 L1499.5 1667.6 L1495.5 1660.9 L1490.1 1666.3 L1482.0 1671.6 L1473.9 1677.0 L1465.8 1681.1 L1457.8 1683.8 L1453.7 1689.2 L1447.0 1694.5 L1438.9 1699.9 L1430.8 1706.7 L1422.7 1715.0" stroke="#000" stroke-width="3.1"/>
<path d="M1210.0 1370.0 L1220.8 1368.7 L1231.5 1364.6 L1242.3 1360.6 L1255.8 1359.3 L1267.9 1361.9 L1277.3 1368.7 L1281.4 1378.1 L1282.7 1391.6 L1277.3 1399.7 L1269.2 1405.0 L1262.5 1415.8 L1261.2 1429.3 L1259.8 1442.7 L1253.1 1450.8 L1245.0 1458.9 L1239.6 1469.7 L1236.9 1480.4 L1234.2 1485.8 L1230.2 1477.7 L1226.2 1472.4 L1218.1 1477.7 L1210.0 1480.4" stroke="#454545" stroke-opacity="0.8" stroke-width="1.5"/>
<path d="M1210.0 1550.5 L1218.1 1561.2 L1226.2 1574.7 L1239.6 1580.1 L1253.1 1578.7 L1266.6 1577.4 L1280.0 1581.4 L1290.8 1590.9 L1304.3 1596.2 L1317.7 1601.6 L1331.2 1607.0 L1344.7 1615.1 L1352.7 1625.9 L1360.8 1628.6 L1368.9 1617.8 L1377.0 1615.1 L1382.4 1625.9 L1387.7 1639.3 L1395.8 1647.4 L1403.9 1646.1 L1409.3 1639.3 L1420.1 1635.3 L1432.2 1632.6 L1441.6 1633.9 L1447.0 1642.0 L1452.4 1647.4 L1463.1 1652.8 L1475.3 1655.5" stroke="#454545" stroke-opacity="0.8" stroke-width="1.5"/>
<path d="M1210.0 1652.8 L1220.8 1662.2 L1228.9 1671.6 L1236.9 1677.0 L1245.0 1669.0 L1250.4 1663.6 L1255.8 1674.3 L1261.2 1685.1 L1266.6 1693.2 L1274.6 1698.6 L1285.4 1706.7 L1296.2 1712.0 L1304.3 1715.0" stroke="#454545" stroke-opacity="0.8" stroke-width="1.5"/>
<path d="M1360.8 1715.0 L1371.6 1710.7 L1385.0 1706.7 L1398.5 1699.9 L1409.3 1690.5 L1417.4 1681.1 L1425.4 1674.3 L1432.2 1669.0 L1438.9 1674.3 L1447.0 1681.1 L1453.7 1685.1" stroke="#333" stroke-opacity="0.88" stroke-width="1.9"/>
<path d="M422.7 1695.0 L438.9 1700.4 L457.7 1705.8 L476.6 1709.8 L495.4 1711.2 L511.6 1712.5 L522.4 1711.2 L525.0 1716.5 L538.5 1717.9 L549.3 1713.9 L562.7 1708.5 L573.5 1704.4 L592.4 1697.7 L603.1 1695.0" stroke="#404040" stroke-opacity="0.82" stroke-width="1.6"/>
<path d="M360.8 1829.7 L374.2 1837.7 L387.7 1845.8 L401.2 1853.9 L414.6 1859.3 L428.1 1856.6 L438.9 1867.4 L449.6 1878.1 L452.3 1888.9 L460.4 1899.7 L465.8 1910.4 L463.1 1921.2 L456.4 1926.6 L453.7 1934.7 L444.3 1940.1 L441.6 1949.5 L433.5 1953.5 L429.4 1961.6 L422.7 1967.0 L428.1 1972.4 L436.2 1977.8 L430.8 1984.5 L421.4 1987.2 L411.9 1984.5 L402.5 1980.5 L393.1 1977.8 L387.7 1984.5 L394.4 1993.9 L403.9 2000.7 L417.3 2002.0 L430.8 1999.3 L438.9 1992.6" stroke="#454545" stroke-opacity="0.8" stroke-width="1.5"/>
<path d="M360.8 1743.5 L368.9 1750.2 L363.5 1759.6 L360.8 1762.3" stroke="#454545" stroke-opacity="0.8" stroke-width="1.5"/>
<path d="M483.3 1829.7 L479.3 1847.2 L492.7 1856.6 L511.6 1867.4 L527.7 1868.7 L543.9 1862.0 L562.7 1856.6 L568.1 1845.8 L565.4 1835.0" stroke="#454545" stroke-opacity="0.8" stroke-width="1.5"/>
<path d="M527.7 1868.7 L538.5 1883.5 L546.6 1891.6 L552.0 1905.1 L549.3 1918.5 L554.7 1926.6 L562.7 1930.6 L573.5 1938.7 L584.3 1941.4 L593.7 1934.7 L600.5 1932.0 L605.8 1923.9 L603.1 1915.8 L595.1 1910.4 L589.7 1902.4 L593.7 1891.6 L597.8 1880.8 L608.5 1879.5 L619.3 1878.1" stroke="#454545" stroke-opacity="0.8" stroke-width="1.5"/>
<path d="M573.5 1816.2 L578.9 1805.4 L592.4 1800.0 L603.1 1798.7 L605.8 1808.1 L601.8 1818.9 L596.4 1827.0 L595.1 1837.7 L605.8 1841.8 L619.3 1844.5 L630.1 1853.9 L643.5 1856.6 L657.0 1859.3 L673.2 1856.6 L675.9 1848.5 L683.9 1844.5 L686.6 1835.0 L697.4 1821.6 L708.2 1813.5 L718.9 1802.7 L727.0 1797.3 L737.8 1798.7 L748.6 1794.6 L759.3 1797.3 L770.1 1789.3 L780.9 1787.9 L789.0 1781.2 L794.3 1773.1 L800.0 1767.7" stroke="#454545" stroke-opacity="0.8" stroke-width="1.5"/>
<path d="M759.3 1797.3 L756.6 1808.1 L751.3 1818.9 L745.9 1829.7 L740.5 1837.7 L737.8 1848.5 L743.2 1859.3 L740.5 1870.0 L735.1 1880.8 L732.4 1894.3 L735.1 1907.7 L736.4 1921.2 L737.8 1934.7 L732.4 1948.1 L729.7 1958.9 L727.0 1968.3 L732.4 1977.8 L737.8 1988.5 L740.5 1999.3 L748.6 2007.4 L754.0 2018.2 L759.3 2028.9 L770.1 2037.0 L780.9 2042.4 L791.7 2046.4 L800.0 2049.1" stroke="#454545" stroke-opacity="0.8" stroke-width="1.5"/>
<path d="M630.1 1853.9 L622.0 1862.0 L619.3 1878.1 L622.0 1886.2 L632.8 1891.6 L643.5 1897.0 L654.3 1902.4 L665.1 1905.1 L670.5 1910.4 L669.1 1923.9 L665.1 1932.0 L667.8 1940.1 L659.7 1945.5 L646.2 1946.8 L635.5 1948.1 L632.8 1954.9 L619.3 1957.6 L605.8 1954.9 L595.1 1953.5 L589.7 1961.6 L587.0 1972.4 L593.7 1980.5 L595.1 1991.2 L589.7 1999.3 L587.0 2007.4 L578.9 2004.7 L570.8 2008.7 L568.1 2018.2 L573.5 2026.2 L565.4 2030.3 L554.7 2031.6 L549.3 2037.0 L538.5 2039.7 L525.0 2037.0 L515.6 2030.3 L514.3 2018.2 L508.9 2007.4 L500.8 2002.0 L490.0 1999.3 L482.0 1996.6 L473.9 1988.5 L465.8 1980.5 L457.7 1981.8 L449.6 1987.2 L438.9 1992.6 L442.9 2002.0 L438.9 2007.4" stroke="#454545" stroke-opacity="0.8" stroke-width="1.5"/>
<path d="M360.8 2037.0 L368.9 2041.1 L376.9 2046.4 L382.3 2041.1 L393.1 2038.4 L401.2 2034.3 L402.5 2022.2 L411.9 2018.2 L417.3 2002.0" stroke="#454545" stroke-opacity="0.8" stroke-width="1.5"/>
<path d="M729.7 1969.7 L740.5 1968.3 L754.0 1964.3 L767.4 1960.3 L780.9 1956.2 L791.7 1953.5 L797.0 1946.8 L800.0 1946.8" stroke="#454545" stroke-opacity="0.8" stroke-width="1.5"/>
<path d="M587.0 2037.0 L600.5 2038.4 L613.9 2039.7 L622.0 2045.1 L632.8 2047.8 L643.5 2050.5 L654.3 2055.9 L662.4 2059.9 L673.2 2062.6 L683.9 2066.6 L694.7 2070.7 L702.8 2072.0 L702.8 2058.6 L700.1 2045.1 L708.2 2037.0 L718.9 2031.6 L727.0 2023.5 L737.8 2018.2 L748.6 2014.1" stroke="#454545" stroke-opacity="0.8" stroke-width="1.5"/>
<path d="M662.4 2059.9 L665.1 2072.0 L659.7 2082.8 L651.6 2090.9 L646.2 2101.6 L638.2 2109.7 L630.1 2115.1 L624.7 2123.2 L622.0 2134.0 L616.6 2145.0" stroke="#454545" stroke-opacity="0.8" stroke-width="1.5"/>
<path d="M702.8 2072.0 L708.2 2080.1 L718.9 2085.5 L723.0 2093.6 L718.9 2104.3 L708.2 2109.7 L694.7 2113.8 L681.2 2115.1 L667.8 2117.8 L662.4 2125.9 L663.7 2136.7 L659.7 2145.0" stroke="#454545" stroke-opacity="0.8" stroke-width="1.5"/>
<path d="M562.7 2145.0 L560.1 2136.7 L565.4 2128.6 L573.5 2123.2 L587.0 2125.9 L597.8 2134.0 L608.5 2136.7 L616.6 2145.0" stroke="#454545" stroke-opacity="0.8" stroke-width="1.5"/>
<path d="M1230.0 1775.8 L1221.7 1781.2 L1210.9 1782.5 L1200.1 1783.9 L1189.3 1786.6 L1178.6 1791.9 L1167.8 1797.3 L1157.0 1802.7 L1148.9 1808.1 L1140.9 1813.5 L1130.1 1817.5 L1122.0 1813.5 L1127.4 1805.4 L1132.8 1797.3 L1130.1 1789.3 L1135.5 1781.2 L1143.6 1773.1 L1151.6 1765.0 L1157.0 1756.9 L1154.3 1750.2 L1146.3 1744.8 L1138.2 1743.5 L1127.4 1744.8 L1116.6 1744.8 L1108.5 1748.9 L1100.5 1756.9 L1089.7 1765.0 L1078.9 1771.8 L1068.2 1777.1 L1057.4 1783.9 L1049.3 1791.9 L1043.9 1798.7 L1033.1 1802.7 L1025.1 1806.8 L1019.7 1810.8 L1014.3 1806.8 L1006.2 1805.4 L998.1 1806.8 L992.7 1813.5 L990.1 1821.6 L992.7 1832.3 L999.5 1840.4 L1008.9 1844.5 L1019.7 1845.8 L1030.5 1844.5 L1035.8 1851.2 L1042.6 1856.6 L1039.9 1867.4 L1041.2 1874.1 L1049.3 1878.1 L1060.1 1878.7 L1070.8 1876.8 L1078.9 1870.0 L1084.3 1864.7 L1092.4 1859.3 L1100.5 1853.9 L1108.5 1856.6 L1119.3 1859.3 L1127.4 1864.7 L1135.5 1867.4 L1143.6 1866.0 L1154.3 1867.4 L1162.4 1870.0 L1170.5 1870.0 L1169.1 1878.1 L1165.1 1883.5 L1157.0 1883.5 L1148.9 1884.9 L1140.9 1888.9 L1130.1 1894.3 L1119.3 1897.0 L1111.2 1899.7 L1103.2 1907.7 L1095.1 1910.4 L1087.0 1913.1 L1081.6 1915.8 L1078.9 1923.9 L1070.8 1929.3 L1062.8 1934.7 L1057.4 1942.8 L1052.0 1950.8 L1046.6 1956.2 L1048.0 1964.3 L1057.4 1967.0 L1065.5 1972.4 L1073.5 1977.8 L1078.9 1983.2 L1084.3 1991.2 L1089.7 1999.3 L1092.4 2007.4 L1097.8 2015.5 L1103.2 2023.5 L1108.5 2031.6 L1116.6 2039.7 L1124.7 2047.8 L1132.8 2055.9 L1140.9 2063.9 L1144.9 2072.0 L1143.6 2080.1 L1140.9 2088.2 L1143.6 2096.3 L1140.9 2104.3 L1130.1 2109.7 L1119.3 2113.8 L1111.2 2120.5 L1103.2 2123.2 L1092.4 2123.2 L1084.3 2125.9 L1092.4 2129.9 L1103.2 2128.6 L1113.9 2125.9 L1124.7 2128.6 L1132.8 2134.0 L1140.9 2139.3 L1148.9 2145.0" stroke="#000" stroke-width="3.1"/>
<path d="M1060.1 2050.5 L1068.2 2055.9 L1076.2 2059.9 L1084.3 2062.6 L1092.4 2063.9 L1103.2 2066.6 L1113.9 2070.7 L1124.7 2077.4 L1132.8 2084.1 L1140.9 2088.2" stroke="#000" stroke-width="3.1"/>
<path d="M1118.0 2070.7 L1127.4 2073.4 L1136.8 2078.8 L1142.2 2084.1 L1135.5 2082.8 L1126.1 2078.8 L1118.0 2070.7" stroke="#000" stroke-width="3.1"/>
<path d="M1154.9 2117.8 L1157.0 2116.2 L1159.2 2117.8 L1157.0 2119.4 L1154.9 2117.8" stroke="#000" stroke-width="3.1"/>
<path d="M1162.9 2125.9 L1165.1 2124.3 L1167.3 2125.9 L1165.1 2127.5 L1162.9 2125.9" stroke="#000" stroke-width="3.1"/>
<path d="M1158.9 2135.3 L1161.1 2133.7 L1163.2 2135.3 L1161.1 2136.9 L1158.9 2135.3" stroke="#000" stroke-width="3.1"/>
<path d="M1168.3 2115.1 L1170.5 2113.5 L1172.6 2115.1 L1170.5 2116.7 L1168.3 2115.1" stroke="#000" stroke-width="3.1"/>
<path d="M1150.8 2128.6 L1153.0 2127.0 L1155.1 2128.6 L1153.0 2130.2 L1150.8 2128.6" stroke="#000" stroke-width="3.1"/>
<path d="M1173.7 2107.0 L1175.9 2105.4 L1178.0 2107.0 L1175.9 2108.6 L1173.7 2107.0" stroke="#000" stroke-width="3.1"/>
<path d="M1187.2 1810.8 L1189.3 1809.2 L1191.5 1810.8 L1189.3 1812.4 L1187.2 1810.8" stroke="#000" stroke-width="3.1"/>
<path d="M1168.3 1804.1 L1170.5 1802.5 L1172.6 1804.1 L1170.5 1805.7 L1168.3 1804.1" stroke="#000" stroke-width="3.1"/>
<path d="M1176.4 1808.1 L1178.6 1806.5 L1180.7 1808.1 L1178.6 1809.7 L1176.4 1808.1" stroke="#000" stroke-width="3.1"/>
<path d="M780.0 1789.3 L785.4 1783.9 L790.8 1773.1 L798.9 1766.4 L809.6 1765.0 L820.4 1762.3 L833.9 1759.6 L847.3 1758.3 L858.1 1756.9 L863.5 1751.6 L860.8 1740.8 L858.1 1730.0 L860.8 1719.2 L868.9 1711.2 L876.9 1703.1 L887.7 1700.4 L901.2 1705.8 L914.7 1707.1 L928.1 1707.1 L941.6 1705.8 L955.0 1703.1 L965.8 1695.0" stroke="#454545" stroke-opacity="0.8" stroke-width="1.5"/>
<path d="M858.1 1756.9 L863.5 1765.0 L858.1 1775.8 L860.8 1786.6 L855.4 1797.3 L850.0 1808.1 L847.3 1821.6 L850.0 1832.3 L855.4 1843.1 L858.1 1856.6 L852.7 1870.0 L850.0 1883.5 L844.6 1894.3 L847.3 1902.4 L852.7 1907.7 L860.8 1910.4 L874.3 1911.8 L887.7 1913.1 L901.2 1914.5 L912.0 1915.8 L914.7 1907.7 L909.3 1899.7 L914.7 1891.6 L922.7 1880.8 L930.8 1870.0 L941.6 1862.0 L955.0 1856.6 L968.5 1852.5 L979.3 1848.5 L990.1 1843.1 L995.4 1840.4" stroke="#454545" stroke-opacity="0.8" stroke-width="1.5"/>
<path d="M914.7 1778.5 L920.0 1767.7 L928.1 1762.3 L925.4 1754.2 L936.2 1748.9 L944.3 1743.5 L952.4 1739.4 L960.4 1746.2 L968.5 1750.2 L979.3 1751.6 L984.7 1752.9 L979.3 1762.3 L973.9 1773.1 L968.5 1775.8 L963.1 1775.8 L960.4 1781.2 L965.8 1787.9 L965.8 1797.3 L960.4 1808.1 L952.4 1800.0 L944.3 1794.6 L933.5 1791.9 L922.7 1786.6 L914.7 1778.5" stroke="#454545" stroke-opacity="0.8" stroke-width="1.5"/>
<path d="M973.9 1773.1 L984.7 1767.7 L992.7 1773.1 L995.4 1783.9 L992.7 1794.6 L995.4 1802.7 L992.7 1813.5" stroke="#454545" stroke-opacity="0.8" stroke-width="1.5"/>
<path d="M960.4 1808.1 L963.1 1818.9 L973.9 1824.3 L984.7 1827.0 L990.1 1821.6" stroke="#454545" stroke-opacity="0.8" stroke-width="1.5"/>
<path d="M912.0 1915.8 L922.7 1918.5 L936.2 1915.8 L925.4 1923.9 L914.7 1926.6 L906.6 1932.0 L898.5 1940.1 L893.1 1949.5 L901.2 1956.2 L909.3 1961.6 L914.7 1968.3 L925.4 1969.7 L938.9 1969.7 L947.0 1964.3 L955.0 1958.9 L965.8 1960.3 L973.9 1964.3 L979.3 1972.4 L990.1 1969.7 L1003.5 1967.0 L1011.6 1975.1 L1019.7 1972.4 L1027.8 1964.3 L1035.8 1956.2 L1046.6 1953.5" stroke="#454545" stroke-opacity="0.8" stroke-width="1.5"/>
<path d="M938.9 1969.7 L941.6 1977.8 L949.7 1983.2 L952.4 1993.9 L938.9 1998.0 L930.8 1991.2 L920.0 1989.9 L917.3 1999.3 L920.0 2010.1 L920.0 2023.5 L917.3 2034.3 L914.7 2045.1 L925.4 2047.8 L928.1 2061.3 L925.4 2074.7 L914.7 2082.8 L909.3 2088.2 L914.7 2096.3 L922.7 2101.6 L928.1 2112.4 L922.7 2123.2 L930.8 2131.3 L936.2 2139.3 L933.5 2145.0" stroke="#454545" stroke-opacity="0.8" stroke-width="1.5"/>
<path d="M790.8 1948.1 L801.5 1946.8 L815.0 1945.5 L825.8 1940.1 L833.9 1934.7 L841.9 1926.6 L847.3 1915.8 L852.7 1907.7" stroke="#454545" stroke-opacity="0.8" stroke-width="1.5"/>
<path d="M780.0 1948.1 L790.8 1948.1" stroke="#454545" stroke-opacity="0.8" stroke-width="1.5"/>
<path d="M780.0 2042.4 L793.5 2047.8 L806.9 2049.1 L820.4 2047.8 L833.9 2046.4 L847.3 2050.5 L852.7 2055.9 L852.7 2066.6 L860.8 2072.0 L871.6 2069.3 L882.3 2072.0 L890.4 2077.4 L901.2 2082.8 L909.3 2088.2" stroke="#454545" stroke-opacity="0.8" stroke-width="1.5"/>
<path d="M955.0 1958.9 L963.1 1969.7 L968.5 1980.5 L976.6 1985.8 L987.4 1988.5 L995.4 1996.6 L1003.5 2002.0 L1008.9 1999.3 L1006.2 2010.1 L1003.5 2018.2 L1011.6 2026.2 L1017.0 2034.3 L1027.8 2037.0 L1033.1 2031.6 L1041.2 2030.3 L1046.6 2037.0 L1043.9 2045.1 L1033.1 2047.8 L1022.4 2053.2 L1017.0 2061.3 L1022.4 2069.3 L1030.5 2074.7 L1033.1 2082.8 L1038.5 2088.2 L1049.3 2090.9 L1062.8 2093.6 L1076.2 2096.3 L1087.0 2099.0 L1097.8 2101.6 L1108.5 2096.3 L1116.6 2085.5 L1119.3 2080.1" stroke="#454545" stroke-opacity="0.8" stroke-width="1.5"/>
<path d="M1062.8 2093.6 L1057.4 2104.3 L1049.3 2115.1 L1046.6 2123.2 L1038.5 2125.9 L1033.1 2131.3 L1038.5 2139.3 L1035.8 2145.0" stroke="#454545" stroke-opacity="0.8" stroke-width="1.5"/>
<path d="M1008.9 1695.0 L1011.6 1708.5 L1017.0 1721.9 L1027.8 1724.6 L1038.5 1730.0 L1043.9 1721.9 L1049.3 1711.2 L1052.0 1703.1 L1065.5 1697.7 L1073.5 1705.8 L1078.9 1711.2 L1089.7 1703.1 L1097.8 1697.7 L1103.2 1695.0" stroke="#454545" stroke-opacity="0.8" stroke-width="1.5"/>
<path d="M1038.5 1730.0 L1035.8 1740.8 L1043.9 1748.9 L1052.0 1754.2 L1060.1 1762.3 L1062.8 1770.4 L1065.5 1775.8" stroke="#454545" stroke-opacity="0.8" stroke-width="1.5"/>
<path d="M1210.0 1782.5 L1218.1 1781.2 L1226.2 1778.5 L1232.9 1774.4 L1236.9 1778.5 L1242.3 1783.9 L1247.7 1789.3 L1253.1 1786.6 L1258.5 1791.9 L1265.2 1797.3 L1267.9 1805.4 L1263.9 1813.5 L1259.8 1821.6 L1255.8 1827.0 L1250.4 1829.7 L1253.1 1837.7 L1247.7 1841.8 L1242.3 1844.5 L1243.7 1851.2 L1253.1 1848.5 L1261.2 1851.2 L1267.9 1856.6 L1274.6 1849.8 L1282.7 1851.2 L1290.8 1856.6 L1298.9 1853.9 L1306.9 1856.6 L1313.7 1853.9 L1316.4 1860.6 L1313.7 1868.7 L1317.7 1875.4 L1323.1 1880.8 L1325.8 1886.2 L1320.4 1888.9 L1312.3 1887.6 L1304.3 1888.9 L1297.5 1892.9 L1298.9 1899.7 L1305.6 1901.0 L1311.0 1905.1 L1312.3 1913.1 L1315.0 1918.5 L1317.7 1923.9 L1313.7 1932.0 L1309.6 1937.4 L1308.3 1945.5 L1304.3 1950.8 L1302.9 1958.9 L1296.2 1961.6 L1290.8 1964.3 L1293.5 1972.4 L1301.6 1975.1 L1309.6 1977.8 L1312.3 1984.5 L1317.7 1977.8 L1325.8 1975.1 L1333.9 1971.0 L1342.0 1967.0 L1350.0 1964.3 L1358.1 1960.3 L1366.2 1957.6 L1374.3 1961.6 L1382.4 1957.6 L1390.4 1952.2 L1398.5 1948.1 L1406.6 1941.4 L1412.0 1933.3 L1416.0 1923.9 L1417.4 1917.2 L1413.3 1907.7 L1412.0 1897.0 L1410.6 1886.2 L1407.9 1875.4 L1402.6 1864.7 L1397.2 1853.9 L1390.4 1843.1 L1382.4 1832.3 L1374.3 1824.3 L1366.2 1818.9 L1359.5 1813.5 L1352.7 1805.4 L1347.3 1797.3 L1346.0 1787.9 L1350.0 1781.2 L1360.8 1775.8 L1371.6 1771.8 L1382.4 1766.4 L1393.1 1759.6 L1403.9 1751.6 L1412.0 1744.8 L1420.1 1740.8 L1425.4 1730.0 L1424.1 1721.9 L1428.1 1713.9 L1433.5 1705.8 L1444.3 1697.7 L1449.7 1695.0" stroke="#000" stroke-width="3.1"/>
<path d="M1232.9 1774.4 L1239.6 1767.7 L1247.7 1761.0 L1255.8 1755.6 L1263.9 1751.6 L1271.9 1747.5 L1280.0 1742.1 L1288.1 1735.4 L1296.2 1730.0 L1304.3 1723.3 L1309.6 1716.5 L1317.7 1712.5 L1325.8 1715.2 L1333.9 1720.6 L1344.7 1723.3 L1358.1 1721.9 L1368.9 1719.2 L1371.6 1711.2 L1366.2 1703.1 L1363.5 1695.0" stroke="#333" stroke-opacity="0.88" stroke-width="1.9"/>
<path d="M1263.9 1705.8 L1267.9 1716.5 L1277.3 1727.3 L1282.7 1735.4 L1280.0 1742.1" stroke="#454545" stroke-opacity="0.8" stroke-width="1.5"/>
<path d="M1316.4 1853.9 L1323.1 1844.5 L1331.2 1837.7 L1342.0 1835.0 L1352.7 1834.5 L1363.5 1833.7 L1371.6 1829.7 L1374.3 1824.3" stroke="#454545" stroke-opacity="0.8" stroke-width="1.5"/>
<path d="M1649.0 1932.0 L1640.9 1934.7 L1632.8 1932.0 L1624.7 1934.7 L1619.3 1929.3 L1608.6 1927.9 L1597.8 1930.6 L1587.0 1932.0 L1573.6 1933.3 L1560.1 1934.7 L1546.6 1936.0 L1533.2 1938.7 L1525.1 1945.5 L1517.0 1953.5 L1508.9 1960.3 L1500.8 1965.6 L1490.1 1971.0 L1479.3 1975.1 L1468.5 1976.4 L1464.5 1983.2 L1468.5 1991.2 L1476.6 1993.9 L1487.4 1991.2 L1498.2 1989.9 L1508.9 1988.5 L1515.7 1980.5 L1523.7 1977.8 L1533.2 1980.5 L1543.9 1979.1 L1554.7 1975.1 L1565.5 1972.4 L1576.3 1969.7 L1587.0 1964.3 L1597.8 1963.0 L1608.6 1964.3 L1616.6 1967.0 L1624.7 1965.6 L1628.8 1969.7 L1622.0 1975.1 L1616.6 1983.2 L1619.3 1991.2 L1624.7 1999.3 L1632.8 2004.7 L1640.9 2007.4 L1649.0 2004.7" stroke="#000" stroke-width="3.1"/>
<path d="M1514.3 1992.6 L1522.4 1988.5 L1533.2 1987.2 L1543.9 1984.5 L1554.7 1981.8 L1565.5 1980.5 L1576.3 1977.8 L1587.0 1973.7 L1597.8 1971.0 L1605.9 1975.1 L1611.3 1980.5 L1603.2 1985.8 L1600.5 1993.9 L1597.8 2004.7 L1587.0 2010.1 L1576.3 2015.5 L1565.5 2018.2 L1554.7 2015.5 L1543.9 2012.8 L1533.2 2018.2 L1525.1 2012.8 L1517.0 2004.7 L1511.6 1998.0 L1514.3 1992.6" stroke="#000" stroke-width="3.1"/>
<path d="M1464.5 1992.6 L1452.4 1996.6 L1441.6 2002.0 L1433.5 2008.7 L1425.4 2015.5 L1420.1 2010.1 L1414.7 2018.2 L1422.7 2023.5 L1428.1 2031.6 L1422.7 2037.0 L1430.8 2042.4 L1436.2 2053.2 L1438.9 2063.9 L1444.3 2072.0 L1447.0 2080.1 L1441.6 2088.2 L1447.0 2093.6 L1455.1 2090.9 L1457.8 2096.3 L1465.8 2093.6 L1471.2 2085.5 L1479.3 2080.1 L1484.7 2072.0 L1487.4 2061.3 L1490.1 2050.5 L1495.5 2042.4 L1498.2 2034.3 L1495.5 2026.2 L1490.1 2018.2 L1492.8 2010.1 L1487.4 2002.0 L1479.3 1995.3 L1468.5 1991.2" stroke="#000" stroke-width="3.1"/>
<path d="M1438.9 2023.5 L1447.0 2020.9 L1452.4 2028.9 L1453.7 2039.7 L1447.0 2047.8 L1441.6 2055.9 L1436.2 2045.1 L1438.9 2034.3 L1438.9 2023.5" stroke="#000" stroke-width="3.1"/>
<path d="M1456.4 2073.4 L1461.8 2076.1 L1460.5 2085.5 L1456.4 2089.5 L1455.1 2081.4 L1456.4 2073.4" stroke="#000" stroke-width="3.1"/>
<path d="M1409.3 1967.0 L1414.7 1968.3 L1412.0 1977.8 L1407.9 1985.8 L1405.2 1983.2 L1407.9 1973.7 L1409.3 1967.0" stroke="#000" stroke-width="3.1"/>
<path d="M1385.0 2039.7 L1393.1 2034.3 L1398.5 2026.2 L1402.6 2018.2 L1398.5 2022.2 L1393.1 2030.3 L1387.7 2037.0 L1385.0 2039.7" stroke="#000" stroke-width="3.1"/>
<path d="M1298.9 2015.5 L1306.9 2012.2 L1316.4 2011.7 L1321.0 2014.4 L1315.0 2017.6 L1305.6 2018.2 L1298.9 2015.5" stroke="#000" stroke-width="3.1"/>
<path d="M1469.9 2107.0 L1472.6 2111.1 L1468.5 2120.5 L1465.3 2123.2 L1467.2 2113.8 L1469.9 2107.0" stroke="#000" stroke-width="3.1"/>
<path d="M1448.3 2121.8 L1452.4 2118.3 L1456.4 2121.8 L1452.4 2125.9 L1448.3 2121.8" stroke="#000" stroke-width="3.1"/>
<path d="M1547.4 1910.4 L1550.7 1907.2 L1554.2 1910.4 L1550.7 1913.7 L1547.4 1910.4" stroke="#000" stroke-width="3.1"/>
<path d="M1462.9 1865.2 L1464.5 1863.9 L1466.1 1865.2 L1464.5 1866.5 L1462.9 1865.2" stroke="#000" stroke-width="3.1"/>
<path d="M1541.0 1917.2 L1542.6 1915.8 L1544.2 1917.2 L1542.6 1918.5 L1541.0 1917.2" stroke="#000" stroke-width="3.1"/>
<path d="M1256.9 1988.5 L1258.5 1987.2 L1260.1 1988.5 L1258.5 1989.9 L1256.9 1988.5" stroke="#000" stroke-width="3.1"/>
<path d="M1335.0 1989.9 L1336.6 1988.5 L1338.2 1989.9 L1336.6 1991.2 L1335.0 1989.9" stroke="#000" stroke-width="3.1"/>
<path d="M1267.6 1967.0 L1269.2 1965.6 L1270.9 1967.0 L1269.2 1968.3 L1267.6 1967.0" stroke="#000" stroke-width="3.1"/>
<path d="M1423.8 1999.3 L1425.4 1998.0 L1427.1 1999.3 L1425.4 2000.7 L1423.8 1999.3" stroke="#000" stroke-width="3.1"/>
<path d="M1425.2 2069.3 L1426.8 2068.0 L1428.4 2069.3 L1426.8 2070.7 L1425.2 2069.3" stroke="#000" stroke-width="3.1"/>
<path d="M1423.8 2074.7 L1425.4 2073.4 L1427.1 2074.7 L1425.4 2076.1 L1423.8 2074.7" stroke="#000" stroke-width="3.1"/>
<path d="M1429.2 2136.7 L1430.8 2135.3 L1432.4 2136.7 L1430.8 2138.0 L1429.2 2136.7" stroke="#000" stroke-width="3.1"/>
<path d="M1428.7 2143.4 L1430.3 2142.0 L1431.9 2143.4 L1430.3 2144.7 L1428.7 2143.4" stroke="#000" stroke-width="3.1"/>
<path d="M1415.7 2139.3 L1417.4 2138.0 L1419.0 2139.3 L1417.4 2140.7 L1415.7 2139.3" stroke="#000" stroke-width="3.1"/>
<path d="M1440.0 2117.8 L1441.6 2116.5 L1443.2 2117.8 L1441.6 2119.2 L1440.0 2117.8" stroke="#000" stroke-width="3.1"/>
<path d="M1294.6 1874.1 L1296.2 1872.7 L1297.8 1874.1 L1296.2 1875.4 L1294.6 1874.1" stroke="#000" stroke-width="3.1"/>
<path d="M1242.0 1848.5 L1243.7 1847.2 L1245.3 1848.5 L1243.7 1849.8 L1242.0 1848.5" stroke="#000" stroke-width="3.1"/>
<path d="M1302.6 1933.3 L1304.3 1932.0 L1305.9 1933.3 L1304.3 1934.7 L1302.6 1933.3" stroke="#000" stroke-width="3.1"/>
<path d="M1298.6 1938.7 L1300.2 1937.4 L1301.8 1938.7 L1300.2 1940.1 L1298.6 1938.7" stroke="#000" stroke-width="3.1"/>
<path d="M1293.5 1960.3 L1295.4 1958.1 L1298.3 1959.2 L1298.9 1961.6 L1296.2 1962.7 L1293.5 1960.3" stroke="#000" stroke-width="3.1"/>
<path d="M1300.2 1965.6 L1302.1 1963.5 L1305.1 1964.6 L1305.6 1967.0 L1302.9 1968.1 L1300.2 1965.6" stroke="#000" stroke-width="3.1"/>
<path d="M1288.1 1967.0 L1290.0 1964.8 L1292.9 1965.9 L1293.5 1968.3 L1290.8 1969.4 L1288.1 1967.0" stroke="#000" stroke-width="3.1"/>
<path d="M1296.2 1973.7 L1298.1 1971.6 L1301.0 1972.7 L1301.6 1975.1 L1298.9 1976.2 L1296.2 1973.7" stroke="#000" stroke-width="3.1"/>
<path d="M1304.3 1957.6 L1306.1 1955.4 L1309.1 1956.5 L1309.6 1958.9 L1306.9 1960.0 L1304.3 1957.6" stroke="#000" stroke-width="3.1"/>
<path d="M1302.9 1972.4 L1304.8 1970.2 L1307.8 1971.3 L1308.3 1973.7 L1305.6 1974.8 L1302.9 1972.4" stroke="#000" stroke-width="3.1"/>
<path d="M1290.8 1976.4 L1292.7 1974.3 L1295.6 1975.3 L1296.2 1977.8 L1293.5 1978.8 L1290.8 1976.4" stroke="#000" stroke-width="3.1"/>
<path d="M1333.9 1969.7 L1335.8 1967.5 L1338.7 1968.6 L1339.3 1971.0 L1336.6 1972.1 L1333.9 1969.7" stroke="#000" stroke-width="3.1"/>
<path d="M1342.0 1972.4 L1343.8 1970.2 L1346.8 1971.3 L1347.3 1973.7 L1344.7 1974.8 L1342.0 1972.4" stroke="#000" stroke-width="3.1"/>
<path d="M1350.0 1967.0 L1351.9 1964.8 L1354.9 1965.9 L1355.4 1968.3 L1352.7 1969.4 L1350.0 1967.0" stroke="#000" stroke-width="3.1"/>
<path d="M1358.1 1964.3 L1360.0 1962.1 L1363.0 1963.2 L1363.5 1965.6 L1360.8 1966.7 L1358.1 1964.3" stroke="#000" stroke-width="3.1"/>
<path d="M1368.9 1963.0 L1370.8 1960.8 L1373.7 1961.9 L1374.3 1964.3 L1371.6 1965.4 L1368.9 1963.0" stroke="#000" stroke-width="3.1"/>
<path d="M1379.7 1960.3 L1381.5 1958.1 L1384.5 1959.2 L1385.0 1961.6 L1382.4 1962.7 L1379.7 1960.3" stroke="#000" stroke-width="3.1"/>
<path d="M1325.8 1975.1 L1327.7 1972.9 L1330.6 1974.0 L1331.2 1976.4 L1328.5 1977.5 L1325.8 1975.1" stroke="#000" stroke-width="3.1"/>
<path d="M1315.0 1980.5 L1316.9 1978.3 L1319.9 1979.4 L1320.4 1981.8 L1317.7 1982.9 L1315.0 1980.5" stroke="#000" stroke-width="3.1"/>
<path d="M360.8 2192.3 L366.2 2203.1 L374.2 2208.5 L382.3 2211.2 L390.4 2219.3 L395.8 2230.0 L403.9 2238.1 L409.2 2248.9 L414.6 2259.7 L420.0 2267.7 L428.1 2273.1 L438.9 2271.8 L449.6 2267.7 L457.7 2262.3 L465.8 2259.7 L473.9 2257.0 L484.7 2254.3 L495.4 2257.0 L506.2 2254.3 L517.0 2255.6 L525.0 2265.0 L522.4 2275.8 L514.3 2283.9 L519.7 2292.0 L527.7 2300.0 L530.4 2310.8 L525.0 2318.9 L522.4 2327.0 L527.7 2335.1 L538.5 2337.7 L549.3 2343.1 L560.1 2345.8 L573.5 2348.5 L578.9 2356.6 L580.3 2367.4 L576.2 2375.5 L573.5 2380.8" stroke="#454545" stroke-opacity="0.8" stroke-width="1.5"/>
<path d="M479.3 2205.8 L487.3 2197.7 L495.4 2192.3 L498.1 2182.9 L508.9 2182.9 L517.0 2189.6 L517.0 2200.4 L525.0 2205.8 L535.8 2203.1 L546.6 2205.8 L549.3 2216.6 L543.9 2224.6 L533.1 2227.3 L522.4 2227.3 L514.3 2230.0 L511.6 2240.8 L506.2 2254.3" stroke="#454545" stroke-opacity="0.8" stroke-width="1.5"/>
<path d="M479.3 2205.8 L476.6 2216.6 L468.5 2224.6 L463.1 2235.4 L457.7 2246.2 L457.7 2262.3" stroke="#454545" stroke-opacity="0.8" stroke-width="1.5"/>
<path d="M549.3 2216.6 L562.7 2213.9 L573.5 2213.9 L584.3 2211.2 L578.9 2203.1 L568.1 2200.4 L562.7 2192.3 L570.8 2184.2 L578.9 2178.9 L587.0 2184.2 L592.4 2181.6 L603.1 2178.9 L613.9 2173.5 L622.0 2165.4 L632.8 2162.7 L643.5 2168.1 L654.3 2169.4 L659.7 2178.9 L667.8 2189.6 L678.5 2197.7 L689.3 2195.0 L690.7 2184.2 L692.0 2170.8 L694.7 2157.3 L702.8 2149.2 L713.6 2143.9 L727.0 2141.2 L737.8 2135.8 L748.6 2133.1 L762.0 2138.5 L772.8 2141.2 L786.3 2146.5 L800.0 2151.9" stroke="#454545" stroke-opacity="0.8" stroke-width="1.5"/>
<path d="M565.4 2125.0 L562.7 2133.1 L557.4 2141.2 L552.0 2149.2 L557.4 2160.0 L565.4 2168.1 L573.5 2176.2 L578.9 2178.9" stroke="#454545" stroke-opacity="0.8" stroke-width="1.5"/>
<path d="M522.4 2327.0 L533.1 2318.9 L543.9 2313.5 L554.7 2316.2 L565.4 2321.6 L573.5 2324.3 L581.6 2316.2 L592.4 2310.8 L603.1 2305.4 L611.2 2297.4 L619.3 2294.7 L630.1 2302.7 L640.8 2308.1 L651.6 2302.7 L662.4 2297.4 L673.2 2289.3 L683.9 2286.6 L694.7 2281.2 L705.5 2278.5 L713.6 2273.1 L724.3 2271.8 L735.1 2267.7 L748.6 2265.0 L759.3 2267.7 L764.7 2278.5 L767.4 2286.6 L762.0 2297.4 L754.0 2308.1 L762.0 2313.5 L770.1 2318.9 L780.9 2322.9 L791.7 2313.5 L800.0 2308.1" stroke="#454545" stroke-opacity="0.8" stroke-width="1.5"/>
<path d="M786.3 2324.3 L789.0 2335.1 L780.9 2345.8 L775.5 2356.6 L770.1 2364.7 L767.4 2375.5 L764.7 2386.2 L754.0 2397.0 L745.9 2405.1 L737.8 2413.2 L727.0 2421.2 L718.9 2423.9 L710.9 2429.3" stroke="#454545" stroke-opacity="0.8" stroke-width="1.5"/>
<path d="M689.3 2195.0 L692.0 2211.2 L694.7 2227.3 L697.4 2243.5 L696.1 2259.7 L694.7 2270.4 L697.4 2278.5" stroke="#454545" stroke-opacity="0.8" stroke-width="1.5"/>
<path d="M662.4 2125.0 L665.1 2135.8 L662.4 2143.9 L667.8 2151.9 L665.1 2162.7 L659.7 2178.9" stroke="#454545" stroke-opacity="0.8" stroke-width="1.5"/>
<path d="M580.3 2367.4 L565.4 2370.1 L554.7 2372.8 L543.9 2376.8 L535.8 2380.8 L525.0 2386.2 L517.0 2390.3 L508.9 2391.6 L503.5 2397.0 L495.4 2394.3 L484.7 2395.6 L476.6 2399.7 L468.5 2398.3 L457.7 2397.0 L449.6 2395.6 L441.6 2399.7 L436.2 2405.1 L425.4 2405.1 L417.3 2409.1" stroke="#5a5353" stroke-opacity="0.9" stroke-width="3.3"/>
<path d="M580.3 2367.4 L565.4 2370.1 L554.7 2372.8 L543.9 2376.8 L535.8 2380.8 L525.0 2386.2 L517.0 2390.3 L508.9 2391.6 L503.5 2397.0 L495.4 2394.3 L484.7 2395.6 L476.6 2399.7 L468.5 2398.3 L457.7 2397.0 L449.6 2395.6 L441.6 2399.7 L436.2 2405.1 L425.4 2405.1 L417.3 2409.1" stroke="#454545" stroke-opacity="0.8" stroke-width="1.5"/>
<path d="M573.5 2380.8 L581.6 2386.2 L592.4 2387.6 L600.5 2391.6 L597.8 2402.4 L596.4 2413.2 L603.1 2421.2 L613.9 2426.6 L624.7 2432.0 L635.5 2433.4 L646.2 2436.0" stroke="#5a5353" stroke-opacity="0.9" stroke-width="3.3"/>
<path d="M573.5 2380.8 L581.6 2386.2 L592.4 2387.6 L600.5 2391.6 L597.8 2402.4 L596.4 2413.2 L603.1 2421.2 L613.9 2426.6 L624.7 2432.0 L635.5 2433.4 L646.2 2436.0" stroke="#454545" stroke-opacity="0.8" stroke-width="1.5"/>
<path d="M417.3 2409.1 L420.0 2421.2 L414.6 2429.3 L403.9 2432.0 L395.8 2429.3 L387.7 2434.7 L376.9 2437.4 L366.2 2440.1 L360.8 2438.7" stroke="#5a5353" stroke-opacity="0.9" stroke-width="3.3"/>
<path d="M417.3 2409.1 L430.8 2413.2 L441.6 2417.2 L449.6 2423.9 L457.7 2430.7 L465.8 2434.7 L473.9 2442.8 L484.7 2448.2 L495.4 2453.5 L506.2 2458.9 L517.0 2464.3 L525.0 2472.4 L522.4 2483.2 L533.1 2488.6 L535.8 2496.6 L527.7 2502.0 L517.0 2507.4 L506.2 2510.1 L500.8 2518.2 L511.6 2523.6 L522.4 2529.0 L533.1 2534.3 L541.2 2542.4 L549.3 2547.8 L557.4 2553.2 L565.4 2555.9 L573.5 2561.3 L584.3 2566.7 L592.4 2572.0" stroke="#5a5353" stroke-opacity="0.9" stroke-width="3.3"/>
<path d="M360.8 2477.8 L368.9 2472.4 L374.2 2480.5 L376.9 2491.3 L382.3 2499.3 L379.6 2507.4 L387.7 2512.8 L398.5 2515.5 L403.9 2523.6 L406.6 2534.3 L401.2 2545.1 L398.5 2555.9 L401.2 2564.0" stroke="#5a5353" stroke-opacity="0.9" stroke-width="3.3"/>
<path d="M468.5 2564.0 L476.6 2553.2 L487.3 2547.8 L498.1 2553.2 L511.6 2555.9 L522.4 2553.2 L533.1 2555.9 L543.9 2561.3 L549.3 2564.0" stroke="#5a5353" stroke-opacity="0.9" stroke-width="3.3"/>
<path d="M592.4 2564.0 L584.3 2555.9 L576.2 2547.8 L568.1 2539.7 L562.7 2529.0 L565.4 2518.2 L569.5 2507.4 L573.5 2499.3 L578.9 2493.9 L587.0 2491.3 L592.4 2485.9 L595.1 2477.8 L593.7 2469.7 L597.8 2464.3 L603.1 2460.3 L611.2 2458.9 L619.3 2457.6 L627.4 2458.9 L635.5 2453.5 L632.8 2448.2 L638.2 2442.8 L646.2 2437.4 L654.3 2434.7 L662.4 2429.3 L665.1 2423.9 L670.5 2426.6 L675.9 2432.0 L686.6 2434.7 L697.4 2433.4 L702.8 2430.7 L710.9 2432.0 L718.9 2437.4 L727.0 2445.5 L732.4 2448.2 L737.8 2442.8 L745.9 2440.1 L754.0 2437.4 L764.7 2438.7 L775.5 2434.7 L780.9 2429.3 L789.0 2426.6 L797.0 2429.3 L800.0 2430.7" stroke="#000" stroke-width="3.1"/>
<path d="M727.0 2445.5 L729.7 2453.5 L724.3 2458.9 L727.0 2464.3 L721.6 2469.7 L716.3 2475.1 L718.9 2480.5 L727.0 2481.8 L732.4 2477.8 L736.4 2472.4 L732.4 2464.3 L737.8 2458.9 L735.1 2452.2 L737.8 2442.8" stroke="#000" stroke-width="3.1"/>
<path d="M686.6 2502.0 L697.4 2496.6 L708.2 2492.6 L721.6 2491.3 L732.4 2489.9 L740.5 2488.6 L748.6 2492.6 L754.0 2499.3 L751.3 2510.1 L745.9 2518.2 L740.5 2526.3 L737.8 2534.3 L732.4 2542.4 L724.3 2547.8 L713.6 2553.2 L702.8 2555.9 L692.0 2553.2 L681.2 2549.2 L673.2 2542.4 L670.5 2531.6 L671.8 2520.9 L675.9 2512.8 L686.6 2502.0" stroke="#000" stroke-width="3.1"/>
<path d="M1157.0 2125.0 L1158.4 2135.8 L1153.0 2143.9 L1148.9 2151.9 L1146.3 2162.7 L1140.9 2170.8 L1135.5 2181.6 L1127.4 2189.6 L1119.3 2200.4 L1111.2 2208.5 L1103.2 2216.6 L1095.1 2224.6 L1087.0 2232.7 L1078.9 2240.8 L1072.2 2248.9 L1065.5 2259.7 L1057.4 2267.7 L1049.3 2271.8 L1046.6 2275.8 L1054.7 2281.2 L1065.5 2283.9 L1069.5 2292.0 L1062.8 2297.4 L1054.7 2302.7 L1046.6 2308.1 L1038.5 2313.5 L1030.5 2318.9 L1022.4 2325.6 L1014.3 2331.0 L1006.2 2333.7 L998.1 2335.1 L992.7 2343.1 L987.4 2351.2 L979.3 2356.6 L971.2 2362.0 L965.8 2367.4 L957.7 2370.1 L952.4 2375.5 L947.0 2380.8 L941.6 2386.2 L933.5 2388.9 L925.4 2390.3 L917.3 2393.0 L909.3 2391.6 L901.2 2394.3 L893.1 2397.0 L885.0 2397.0 L876.9 2402.4 L871.6 2407.8 L866.2 2410.5 L860.8 2407.8 L855.4 2402.4 L852.7 2394.3 L850.0 2386.2 L847.3 2380.8 L841.9 2383.5 L839.2 2391.6 L841.9 2399.7 L844.6 2407.8 L841.9 2415.8 L833.9 2418.5 L825.8 2421.2 L820.4 2426.6 L815.0 2432.0 L806.9 2429.3 L798.9 2428.0 L790.8 2432.0 L780.0 2434.7" stroke="#000" stroke-width="4.2"/>
<path d="M1154.1 2127.0a1.3 1.3 0 1 0 2.6 0a1.3 1.3 0 1 0 -2.6 0M1161.4 2132.6a1.9 1.9 0 1 0 3.8 0a1.9 1.9 0 1 0 -3.8 0M1161.2 2138.8a1.3 1.3 0 1 0 2.7 0a1.3 1.3 0 1 0 -2.7 0M1148.8 2143.7a2.5 2.5 0 1 0 5.1 0a2.5 2.5 0 1 0 -5.1 0M1143.4 2147.7a1.3 1.3 0 1 0 2.5 0a1.3 1.3 0 1 0 -2.5 0M1150.6 2157.6a1.4 1.4 0 1 0 2.7 0a1.4 1.4 0 1 0 -2.7 0M1142.7 2162.5a1.7 1.7 0 1 0 3.4 0a1.7 1.7 0 1 0 -3.4 0M1145.0 2171.9a1.5 1.5 0 1 0 3.0 0a1.5 1.5 0 1 0 -3.0 0M1139.0 2175.4a2.0 2.0 0 1 0 4.0 0a2.0 2.0 0 1 0 -4.0 0M1131.6 2177.0a2.2 2.2 0 1 0 4.4 0a2.2 2.2 0 1 0 -4.4 0M1131.9 2182.3a2.4 2.4 0 1 0 4.9 0a2.4 2.4 0 1 0 -4.9 0M1123.1 2184.5a1.4 1.4 0 1 0 2.7 0a1.4 1.4 0 1 0 -2.7 0M1125.0 2199.2a2.1 2.1 0 1 0 4.3 0a2.1 2.1 0 1 0 -4.3 0M1111.4 2200.3a1.6 1.6 0 1 0 3.3 0a1.6 1.6 0 1 0 -3.3 0M1110.0 2206.6a1.8 1.8 0 1 0 3.7 0a1.8 1.8 0 1 0 -3.7 0M1106.8 2218.2a2.2 2.2 0 1 0 4.4 0a2.2 2.2 0 1 0 -4.4 0M1094.6 2224.9a2.1 2.1 0 1 0 4.3 0a2.1 2.1 0 1 0 -4.3 0M1096.4 2227.5a1.4 1.4 0 1 0 2.7 0a1.4 1.4 0 1 0 -2.7 0M1085.0 2234.2a2.4 2.4 0 1 0 4.8 0a2.4 2.4 0 1 0 -4.8 0M1079.8 2236.7a2.4 2.4 0 1 0 4.9 0a2.4 2.4 0 1 0 -4.9 0M1073.5 2247.0a2.4 2.4 0 1 0 4.9 0a2.4 2.4 0 1 0 -4.9 0M1070.7 2256.1a1.5 1.5 0 1 0 3.0 0a1.5 1.5 0 1 0 -3.0 0M1065.6 2255.0a1.6 1.6 0 1 0 3.1 0a1.6 1.6 0 1 0 -3.1 0M1064.6 2260.8a2.0 2.0 0 1 0 4.0 0a2.0 2.0 0 1 0 -4.0 0M1055.4 2267.4a2.1 2.1 0 1 0 4.1 0a2.1 2.1 0 1 0 -4.1 0M1050.2 2264.8a2.3 2.3 0 1 0 4.6 0a2.3 2.3 0 1 0 -4.6 0M1050.1 2276.0a2.1 2.1 0 1 0 4.2 0a2.1 2.1 0 1 0 -4.2 0M1047.4 2273.1a1.4 1.4 0 1 0 2.9 0a1.4 1.4 0 1 0 -2.9 0M1053.9 2274.4a1.4 1.4 0 1 0 2.8 0a1.4 1.4 0 1 0 -2.8 0M1054.2 2275.8a2.4 2.4 0 1 0 4.8 0a2.4 2.4 0 1 0 -4.8 0M1062.4 2280.5a1.7 1.7 0 1 0 3.4 0a1.7 1.7 0 1 0 -3.4 0M1059.9 2287.2a2.6 2.6 0 1 0 5.2 0a2.6 2.6 0 1 0 -5.2 0M1071.5 2287.6a1.3 1.3 0 1 0 2.7 0a1.3 1.3 0 1 0 -2.7 0M1063.3 2290.7a1.4 1.4 0 1 0 2.9 0a1.4 1.4 0 1 0 -2.9 0M1055.1 2301.0a1.2 1.2 0 1 0 2.5 0a1.2 1.2 0 1 0 -2.5 0M1047.0 2310.1a1.7 1.7 0 1 0 3.4 0a1.7 1.7 0 1 0 -3.4 0M1032.5 2311.3a2.6 2.6 0 1 0 5.2 0a2.6 2.6 0 1 0 -5.2 0M1025.4 2324.4a1.2 1.2 0 1 0 2.5 0a1.2 1.2 0 1 0 -2.5 0M1021.7 2328.1a2.2 2.2 0 1 0 4.3 0a2.2 2.2 0 1 0 -4.3 0M1009.0 2326.5a2.6 2.6 0 1 0 5.2 0a2.6 2.6 0 1 0 -5.2 0M1006.1 2336.8a1.5 1.5 0 1 0 3.0 0a1.5 1.5 0 1 0 -3.0 0M1001.9 2332.5a2.5 2.5 0 1 0 4.9 0a2.5 2.5 0 1 0 -4.9 0M992.0 2337.4a2.3 2.3 0 1 0 4.6 0a2.3 2.3 0 1 0 -4.6 0M988.8 2336.7a2.3 2.3 0 1 0 4.6 0a2.3 2.3 0 1 0 -4.6 0M991.6 2348.3a2.3 2.3 0 1 0 4.6 0a2.3 2.3 0 1 0 -4.6 0M981.6 2354.8a2.5 2.5 0 1 0 5.1 0a2.5 2.5 0 1 0 -5.1 0M981.5 2359.6a1.4 1.4 0 1 0 2.8 0a1.4 1.4 0 1 0 -2.8 0M965.2 2368.5a2.0 2.0 0 1 0 3.9 0a2.0 2.0 0 1 0 -3.9 0M960.9 2362.4a2.1 2.1 0 1 0 4.2 0a2.1 2.1 0 1 0 -4.2 0M943.0 2387.4a1.6 1.6 0 1 0 3.2 0a1.6 1.6 0 1 0 -3.2 0M938.8 2389.6a1.8 1.8 0 1 0 3.6 0a1.8 1.8 0 1 0 -3.6 0M919.8 2390.3a2.5 2.5 0 1 0 4.9 0a2.5 2.5 0 1 0 -4.9 0M903.9 2392.7a1.2 1.2 0 1 0 2.5 0a1.2 1.2 0 1 0 -2.5 0M897.2 2401.1a2.3 2.3 0 1 0 4.6 0a2.3 2.3 0 1 0 -4.6 0M889.7 2394.3a2.0 2.0 0 1 0 4.0 0a2.0 2.0 0 1 0 -4.0 0M881.0 2397.3a2.3 2.3 0 1 0 4.6 0a2.3 2.3 0 1 0 -4.6 0M880.6 2402.5a1.6 1.6 0 1 0 3.2 0a1.6 1.6 0 1 0 -3.2 0M870.0 2406.0a2.3 2.3 0 1 0 4.5 0a2.3 2.3 0 1 0 -4.5 0M864.1 2409.0a1.9 1.9 0 1 0 3.8 0a1.9 1.9 0 1 0 -3.8 0M861.2 2409.6a1.9 1.9 0 1 0 3.9 0a1.9 1.9 0 1 0 -3.9 0M848.3 2386.5a2.5 2.5 0 1 0 5.0 0a2.5 2.5 0 1 0 -5.0 0M841.9 2383.7a1.8 1.8 0 1 0 3.6 0a1.8 1.8 0 1 0 -3.6 0M847.1 2385.6a2.1 2.1 0 1 0 4.3 0a2.1 2.1 0 1 0 -4.3 0M836.8 2406.5a2.6 2.6 0 1 0 5.1 0a2.6 2.6 0 1 0 -5.1 0M834.5 2411.3a2.4 2.4 0 1 0 4.7 0a2.4 2.4 0 1 0 -4.7 0M830.8 2418.8a1.7 1.7 0 1 0 3.3 0a1.7 1.7 0 1 0 -3.3 0M821.6 2420.4a1.2 1.2 0 1 0 2.5 0a1.2 1.2 0 1 0 -2.5 0M819.8 2433.7a1.7 1.7 0 1 0 3.3 0a1.7 1.7 0 1 0 -3.3 0M805.7 2435.3a2.6 2.6 0 1 0 5.2 0a2.6 2.6 0 1 0 -5.2 0M798.6 2433.1a2.3 2.3 0 1 0 4.6 0a2.3 2.3 0 1 0 -4.6 0M791.7 2431.4a2.5 2.5 0 1 0 5.0 0a2.5 2.5 0 1 0 -5.0 0M784.9 2437.2a2.5 2.5 0 1 0 5.0 0a2.5 2.5 0 1 0 -5.0 0" fill="#000" stroke="none"/>
<path d="M1130.1 2304.1 L1138.2 2306.8 L1144.9 2313.5 L1140.9 2324.3 L1138.2 2337.7 L1135.5 2351.2 L1130.1 2364.7 L1126.1 2378.1 L1119.3 2388.9 L1113.9 2399.7 L1108.5 2410.5 L1105.9 2421.2 L1100.5 2422.6 L1097.8 2413.2 L1092.4 2405.1 L1087.0 2397.0 L1081.6 2386.2 L1078.9 2375.5 L1080.3 2364.7 L1084.3 2353.9 L1089.7 2343.1 L1095.1 2332.4 L1100.5 2324.3 L1108.5 2316.2 L1116.6 2310.8 L1124.7 2305.4 L1130.1 2304.1" stroke="#000" stroke-width="3.1"/>
<path d="M1092.4 2564.0 L1096.4 2553.2 L1103.2 2545.1 L1111.2 2542.4 L1119.3 2543.8 L1127.4 2550.5 L1135.5 2555.9 L1143.6 2553.2 L1151.6 2547.8 L1158.4 2550.5 L1157.0 2558.6 L1151.6 2564.0" stroke="#000" stroke-width="3.1"/>
<path d="M1208.2 2337.7 L1216.3 2335.1 L1224.3 2332.4 L1230.0 2331.0" stroke="#000" stroke-width="3.1"/>
<path d="M1057.1 2363.3 L1060.1 2361.0 L1063.0 2363.3 L1060.1 2365.7 L1057.1 2363.3" stroke="#000" stroke-width="3.1"/>
<path d="M1127.1 2397.0 L1128.7 2395.7 L1130.4 2397.0 L1128.7 2398.3 L1127.1 2397.0" stroke="#000" stroke-width="3.1"/>
<path d="M1127.9 2418.5 L1130.1 2416.8 L1132.2 2418.5 L1130.1 2420.3 L1127.9 2418.5" stroke="#000" stroke-width="3.1"/>
<path d="M1125.0 2515.5 L1127.4 2513.5 L1129.8 2515.5 L1127.4 2517.4 L1125.0 2515.5" stroke="#000" stroke-width="3.1"/>
<path d="M1143.0 2508.8 L1144.9 2507.2 L1146.8 2508.8 L1144.9 2510.3 L1143.0 2508.8" stroke="#000" stroke-width="3.1"/>
<path d="M1120.4 2526.3 L1122.0 2525.0 L1123.6 2526.3 L1122.0 2527.6 L1120.4 2526.3" stroke="#000" stroke-width="3.1"/>
<path d="M1141.1 2529.0 L1143.6 2527.0 L1146.0 2529.0 L1143.6 2530.9 L1141.1 2529.0" stroke="#000" stroke-width="3.1"/>
<path d="M1180.7 2332.4 L1182.6 2330.9 L1184.5 2332.4 L1182.6 2333.9 L1180.7 2332.4" stroke="#000" stroke-width="3.1"/>
<path d="M1202.5 2285.2 L1204.2 2283.9 L1205.8 2285.2 L1204.2 2286.5 L1202.5 2285.2" stroke="#000" stroke-width="3.1"/>
<path d="M1144.9 2475.1 L1146.3 2474.0 L1147.6 2475.1 L1146.3 2476.2 L1144.9 2475.1" stroke="#000" stroke-width="3.1"/>
<path d="M1076.2 2526.3 L1060.1 2561.3" stroke="#454545" stroke-opacity="0.8" stroke-width="1.5"/>
<path d="M844.6 2138.5 L850.0 2149.2 L855.4 2160.0 L863.5 2170.8 L866.2 2181.6 L860.8 2192.3 L855.4 2203.1 L850.0 2213.9 L852.7 2224.6 L858.1 2235.4 L863.5 2246.2 L866.2 2257.0 L860.8 2267.7 L858.1 2278.5 L859.4 2292.0 L858.1 2300.0" stroke="#454545" stroke-opacity="0.8" stroke-width="1.5"/>
<path d="M858.1 2300.0 L868.9 2301.4 L879.6 2302.7 L885.0 2309.5 L876.9 2316.2 L871.6 2324.3 L879.6 2329.7 L890.4 2327.0 L901.2 2324.3 L912.0 2322.9 L920.0 2327.0 L925.4 2318.9 L928.1 2308.1 L930.8 2297.4 L936.2 2286.6 L944.3 2275.8 L949.7 2265.0 L952.4 2254.3 L955.0 2243.5 L963.1 2235.4 L971.2 2227.3 L968.5 2219.3 L976.6 2211.2 L987.4 2208.5 L998.1 2205.8 L1003.5 2207.1" stroke="#454545" stroke-opacity="0.8" stroke-width="1.5"/>
<path d="M925.4 2318.9 L936.2 2317.6 L947.0 2318.9 L955.0 2327.0 L963.1 2335.1 L968.5 2345.8 L971.2 2356.6 L971.2 2362.0" stroke="#454545" stroke-opacity="0.8" stroke-width="1.5"/>
<path d="M858.1 2300.0 L847.3 2297.4 L836.6 2294.7 L825.8 2300.0 L817.7 2308.1 L806.9 2308.1 L796.2 2310.8 L790.8 2318.9 L785.4 2324.3 L788.1 2335.1 L782.7 2345.8 L780.0 2353.9" stroke="#454545" stroke-opacity="0.8" stroke-width="1.5"/>
<path d="M780.0 2138.5 L790.8 2141.2 L801.5 2146.5 L812.3 2143.9 L823.1 2146.5 L833.9 2143.9 L844.6 2138.5 L855.4 2135.8 L868.9 2141.2 L879.6 2149.2 L890.4 2154.6 L901.2 2149.2 L912.0 2146.5 L922.7 2141.2 L933.5 2135.8 L936.2 2125.0" stroke="#454545" stroke-opacity="0.8" stroke-width="1.5"/>
<path d="M952.4 2133.1 L957.7 2141.2 L968.5 2146.5 L979.3 2143.9 L992.7 2146.5 L1003.5 2149.2 L1014.3 2160.0 L1017.0 2173.5 L1022.4 2186.9 L1019.7 2197.7 L1027.8 2205.8 L1035.8 2216.6 L1043.9 2224.6 L1054.7 2221.9 L1065.5 2224.6 L1076.2 2232.7" stroke="#454545" stroke-opacity="0.8" stroke-width="1.5"/>
<path d="M1347.3 2274.5 L1351.4 2265.0 L1356.8 2258.3 L1363.5 2254.3 L1371.6 2248.9 L1368.9 2254.3 L1360.8 2261.0 L1355.4 2270.4 L1350.0 2275.8 L1347.3 2274.5" stroke="#000" stroke-width="3.1"/>
<path d="M1402.6 2197.7 L1412.0 2191.0 L1422.7 2186.9 L1417.4 2193.7 L1409.3 2199.1 L1402.6 2197.7" stroke="#000" stroke-width="3.1"/>
<path d="M1393.7 2212.5 L1395.8 2210.8 L1398.0 2212.5 L1395.8 2214.2 L1393.7 2212.5" stroke="#000" stroke-width="3.1"/>
<path d="M1381.3 2227.3 L1382.4 2226.5 L1383.4 2227.3 L1382.4 2228.2 L1381.3 2227.3" stroke="#000" stroke-width="3.1"/>
<path d="M1377.2 2238.1 L1378.3 2237.2 L1379.4 2238.1 L1378.3 2239.0 L1377.2 2238.1" stroke="#000" stroke-width="3.1"/>
<path d="M1430.8 2194.5 L1432.2 2193.4 L1433.5 2194.5 L1432.2 2195.6 L1430.8 2194.5" stroke="#000" stroke-width="3.1"/>
<path d="M1428.1 2137.1 L1429.5 2136.0 L1430.8 2137.1 L1429.5 2138.2 L1428.1 2137.1" stroke="#000" stroke-width="3.1"/>
<path d="M1421.9 2143.9 L1422.7 2143.2 L1423.6 2143.9 L1422.7 2144.5 L1421.9 2143.9" stroke="#000" stroke-width="3.1"/>
<path d="M1419.2 2151.9 L1420.1 2151.3 L1420.9 2151.9 L1420.1 2152.6 L1419.2 2151.9" stroke="#000" stroke-width="3.1"/>
<path d="M1316.4 2265.0 L1317.7 2264.0 L1319.1 2265.0 L1317.7 2266.1 L1316.4 2265.0" stroke="#000" stroke-width="3.1"/>
<path d="M1338.5 2271.8 L1339.3 2271.1 L1340.1 2271.8 L1339.3 2272.4 L1338.5 2271.8" stroke="#000" stroke-width="3.1"/>
<path d="M1477.7 2281.2 L1479.3 2279.9 L1480.9 2281.2 L1479.3 2282.5 L1477.7 2281.2" stroke="#000" stroke-width="3.1"/>
<path d="M1262.5 2320.2 L1265.2 2318.1 L1267.9 2320.2 L1265.2 2322.4 L1262.5 2320.2" stroke="#000" stroke-width="3.1"/>
<path d="M1225.4 2332.4 L1227.5 2330.6 L1229.7 2332.4 L1227.5 2334.1 L1225.4 2332.4" stroke="#000" stroke-width="3.1"/>
<path d="M1210.5 2337.7 L1212.7 2336.0 L1214.8 2337.7 L1212.7 2339.5 L1210.5 2337.7" stroke="#000" stroke-width="3.1"/>
<path d="M1450.2 2125.0 L1452.4 2123.3 L1454.5 2125.0 L1452.4 2126.7 L1450.2 2125.0" stroke="#000" stroke-width="3.1"/>
</g>
<text x="413.8" y="1400.5" style="font-family:'Liberation Sans',Arial,sans-serif;font-size:56px;font-weight:bold" fill="#000">371</text>
<text x="627.2" y="1400.5" style="font-family:'Liberation Sans',Arial,sans-serif;font-size:56px;font-weight:bold" fill="#000">240</text>
<text x="843.8" y="1400.5" style="font-family:'Liberation Sans',Arial,sans-serif;font-size:56px;font-weight:bold" fill="#000">187</text>
<text x="1059.3" y="1400.5" style="font-family:'Liberation Sans',Arial,sans-serif;font-size:56px;font-weight:bold" fill="#000">174</text>
<text x="1273.8" y="1400.5" style="font-family:'Liberation Sans',Arial,sans-serif;font-size:56px;font-weight:bold" fill="#000">190</text>
<text x="1488.1" y="1400.5" style="font-family:'Liberation Sans',Arial,sans-serif;font-size:56px;font-weight:bold" fill="#000">183</text>
<text x="413.8" y="1615.3" style="font-family:'Liberation Sans',Arial,sans-serif;font-size:56px;font-weight:bold" fill="#000">356</text>
<text x="629.2" y="1615.3" style="font-family:'Liberation Sans',Arial,sans-serif;font-size:56px;font-weight:bold" fill="#000">185</text>
<text x="843.8" y="1615.3" style="font-family:'Liberation Sans',Arial,sans-serif;font-size:56px;font-weight:bold" fill="#000">182</text>
<text x="1059.3" y="1615.3" style="font-family:'Liberation Sans',Arial,sans-serif;font-size:56px;font-weight:bold" fill="#000">160</text>
<text x="1273.8" y="1615.3" style="font-family:'Liberation Sans',Arial,sans-serif;font-size:56px;font-weight:bold" fill="#000">169</text>
<text x="1488.1" y="1615.3" style="font-family:'Liberation Sans',Arial,sans-serif;font-size:56px;font-weight:bold" fill="#000">172</text>
<text x="413.8" y="1830.2" style="font-family:'Liberation Sans',Arial,sans-serif;font-size:56px;font-weight:bold" fill="#000">285</text>
<text x="627.2" y="1830.2" style="font-family:'Liberation Sans',Arial,sans-serif;font-size:56px;font-weight:bold" fill="#000">226</text>
<text x="841.8" y="1830.2" style="font-family:'Liberation Sans',Arial,sans-serif;font-size:56px;font-weight:bold" fill="#000">254</text>
<text x="1059.3" y="1830.2" style="font-family:'Liberation Sans',Arial,sans-serif;font-size:56px;font-weight:bold" fill="#000">177</text>
<text x="1273.8" y="1830.2" style="font-family:'Liberation Sans',Arial,sans-serif;font-size:56px;font-weight:bold" fill="#000">164</text>
<text x="1488.1" y="1830.2" style="font-family:'Liberation Sans',Arial,sans-serif;font-size:56px;font-weight:bold" fill="#000">153</text>
<text x="413.8" y="2045.0" style="font-family:'Liberation Sans',Arial,sans-serif;font-size:56px;font-weight:bold" fill="#000">561</text>
<text x="627.2" y="2045.0" style="font-family:'Liberation Sans',Arial,sans-serif;font-size:56px;font-weight:bold" fill="#000">266</text>
<text x="841.8" y="2045.0" style="font-family:'Liberation Sans',Arial,sans-serif;font-size:56px;font-weight:bold" fill="#000">250</text>
<text x="1057.3" y="2045.0" style="font-family:'Liberation Sans',Arial,sans-serif;font-size:56px;font-weight:bold" fill="#000">260</text>
<text x="1271.8" y="2045.0" style="font-family:'Liberation Sans',Arial,sans-serif;font-size:56px;font-weight:bold" fill="#000">232</text>
<text x="1486.1" y="2045.0" style="font-family:'Liberation Sans',Arial,sans-serif;font-size:56px;font-weight:bold" fill="#000">232</text>
<text x="413.8" y="2259.9" style="font-family:'Liberation Sans',Arial,sans-serif;font-size:56px;font-weight:bold" fill="#000">496</text>
<text x="627.2" y="2259.9" style="font-family:'Liberation Sans',Arial,sans-serif;font-size:56px;font-weight:bold" fill="#000">309</text>
<text x="841.8" y="2259.9" style="font-family:'Liberation Sans',Arial,sans-serif;font-size:56px;font-weight:bold" fill="#000">381</text>
<text x="1057.3" y="2259.9" style="font-family:'Liberation Sans',Arial,sans-serif;font-size:56px;font-weight:bold" fill="#000">315</text>
<text x="1271.8" y="2259.9" style="font-family:'Liberation Sans',Arial,sans-serif;font-size:56px;font-weight:bold" fill="#000">256</text>
<text x="1486.1" y="2259.9" style="font-family:'Liberation Sans',Arial,sans-serif;font-size:56px;font-weight:bold" fill="#000">260</text>
<text x="413.8" y="2474.8" style="font-family:'Liberation Sans',Arial,sans-serif;font-size:56px;font-weight:bold" fill="#000">718</text>
<text x="627.2" y="2474.8" style="font-family:'Liberation Sans',Arial,sans-serif;font-size:56px;font-weight:bold" fill="#000">477</text>
<text x="841.8" y="2474.8" style="font-family:'Liberation Sans',Arial,sans-serif;font-size:56px;font-weight:bold" fill="#000">389</text>
<text x="1057.3" y="2474.8" style="font-family:'Liberation Sans',Arial,sans-serif;font-size:56px;font-weight:bold" fill="#000">390</text>
<text x="1271.8" y="2474.8" style="font-family:'Liberation Sans',Arial,sans-serif;font-size:56px;font-weight:bold" fill="#000">307</text>
<text x="1486.1" y="2474.8" style="font-family:'Liberation Sans',Arial,sans-serif;font-size:56px;font-weight:bold" fill="#000">220</text>
<rect x="360.0" y="1275.5" width="1289.5" height="1289.1" fill="none" stroke="#111" stroke-width="2"/>
<line x1="351.5" y1="1275.5" x2="360.0" y2="1275.5" stroke="#111" stroke-width="1.8"/>
<text x="344.8" y="1296.4" text-anchor="end" style="font-family:'DejaVu Sans','Liberation Sans',sans-serif;font-size:56px" fill="#000">54<tspan dx="2" dy="-12.5" style="font-size:50px">°</tspan><tspan dx="1" dy="12.5">N</tspan></text>
<line x1="360.0" y1="2564.6" x2="360.0" y2="2573.1" stroke="#111" stroke-width="1.8"/>
<text x="360.5" y="2623" text-anchor="middle" style="font-family:'DejaVu Sans','Liberation Sans',sans-serif;font-size:56px" fill="#000">100<tspan dx="2" dy="-12.5" style="font-size:50px">°</tspan><tspan dx="1" dy="12.5">E</tspan></text>
<line x1="351.5" y1="1490.3" x2="360.0" y2="1490.3" stroke="#111" stroke-width="1.8"/>
<text x="344.8" y="1511.2" text-anchor="end" style="font-family:'DejaVu Sans','Liberation Sans',sans-serif;font-size:56px" fill="#000">48<tspan dx="2" dy="-12.5" style="font-size:50px">°</tspan><tspan dx="1" dy="12.5">N</tspan></text>
<line x1="574.9" y1="2564.6" x2="574.9" y2="2573.1" stroke="#111" stroke-width="1.8"/>
<text x="575.4" y="2623" text-anchor="middle" style="font-family:'DejaVu Sans','Liberation Sans',sans-serif;font-size:56px" fill="#000">106<tspan dx="2" dy="-12.5" style="font-size:50px">°</tspan><tspan dx="1" dy="12.5">E</tspan></text>
<line x1="351.5" y1="1705.2" x2="360.0" y2="1705.2" stroke="#111" stroke-width="1.8"/>
<text x="344.8" y="1726.1" text-anchor="end" style="font-family:'DejaVu Sans','Liberation Sans',sans-serif;font-size:56px" fill="#000">42<tspan dx="2" dy="-12.5" style="font-size:50px">°</tspan><tspan dx="1" dy="12.5">N</tspan></text>
<line x1="789.8" y1="2564.6" x2="789.8" y2="2573.1" stroke="#111" stroke-width="1.8"/>
<text x="790.3" y="2623" text-anchor="middle" style="font-family:'DejaVu Sans','Liberation Sans',sans-serif;font-size:56px" fill="#000">112<tspan dx="2" dy="-12.5" style="font-size:50px">°</tspan><tspan dx="1" dy="12.5">E</tspan></text>
<line x1="351.5" y1="1920.0" x2="360.0" y2="1920.0" stroke="#111" stroke-width="1.8"/>
<text x="344.8" y="1941.0" text-anchor="end" style="font-family:'DejaVu Sans','Liberation Sans',sans-serif;font-size:56px" fill="#000">36<tspan dx="2" dy="-12.5" style="font-size:50px">°</tspan><tspan dx="1" dy="12.5">N</tspan></text>
<line x1="1004.8" y1="2564.6" x2="1004.8" y2="2573.1" stroke="#111" stroke-width="1.8"/>
<text x="1005.2" y="2623" text-anchor="middle" style="font-family:'DejaVu Sans','Liberation Sans',sans-serif;font-size:56px" fill="#000">118<tspan dx="2" dy="-12.5" style="font-size:50px">°</tspan><tspan dx="1" dy="12.5">E</tspan></text>
<line x1="351.5" y1="2134.9" x2="360.0" y2="2134.9" stroke="#111" stroke-width="1.8"/>
<text x="344.8" y="2155.8" text-anchor="end" style="font-family:'DejaVu Sans','Liberation Sans',sans-serif;font-size:56px" fill="#000">30<tspan dx="2" dy="-12.5" style="font-size:50px">°</tspan><tspan dx="1" dy="12.5">N</tspan></text>
<line x1="1219.7" y1="2564.6" x2="1219.7" y2="2573.1" stroke="#111" stroke-width="1.8"/>
<text x="1220.2" y="2623" text-anchor="middle" style="font-family:'DejaVu Sans','Liberation Sans',sans-serif;font-size:56px" fill="#000">124<tspan dx="2" dy="-12.5" style="font-size:50px">°</tspan><tspan dx="1" dy="12.5">E</tspan></text>
<line x1="351.5" y1="2349.8" x2="360.0" y2="2349.8" stroke="#111" stroke-width="1.8"/>
<text x="344.8" y="2370.7" text-anchor="end" style="font-family:'DejaVu Sans','Liberation Sans',sans-serif;font-size:56px" fill="#000">24<tspan dx="2" dy="-12.5" style="font-size:50px">°</tspan><tspan dx="1" dy="12.5">N</tspan></text>
<line x1="1434.6" y1="2564.6" x2="1434.6" y2="2573.1" stroke="#111" stroke-width="1.8"/>
<text x="1435.1" y="2623" text-anchor="middle" style="font-family:'DejaVu Sans','Liberation Sans',sans-serif;font-size:56px" fill="#000">130<tspan dx="2" dy="-12.5" style="font-size:50px">°</tspan><tspan dx="1" dy="12.5">E</tspan></text>
<line x1="351.5" y1="2564.6" x2="360.0" y2="2564.6" stroke="#111" stroke-width="1.8"/>
<text x="344.8" y="2585.5" text-anchor="end" style="font-family:'DejaVu Sans','Liberation Sans',sans-serif;font-size:56px" fill="#000">18<tspan dx="2" dy="-12.5" style="font-size:50px">°</tspan><tspan dx="1" dy="12.5">N</tspan></text>
<line x1="1649.5" y1="2564.6" x2="1649.5" y2="2573.1" stroke="#111" stroke-width="1.8"/>
<text x="1650.0" y="2623" text-anchor="middle" style="font-family:'DejaVu Sans','Liberation Sans',sans-serif;font-size:56px" fill="#000">136<tspan dx="2" dy="-12.5" style="font-size:50px">°</tspan><tspan dx="1" dy="12.5">E</tspan></text>
<rect x="1672.0" y="1333.50" width="61.8" height="29.88" fill="#800000"/>
<rect x="1672.0" y="1362.78" width="61.8" height="29.88" fill="#9d0000"/>
<rect x="1672.0" y="1392.07" width="61.8" height="29.88" fill="#bb0000"/>
<rect x="1672.0" y="1421.35" width="61.8" height="29.88" fill="#d90000"/>
<rect x="1672.0" y="1450.63" width="61.8" height="29.88" fill="#f60c00"/>
<rect x="1672.0" y="1479.91" width="61.8" height="29.88" fill="#ff2400"/>
<rect x="1672.0" y="1509.20" width="61.8" height="29.88" fill="#ff3c00"/>
<rect x="1672.0" y="1538.48" width="61.8" height="29.88" fill="#ff5500"/>
<rect x="1672.0" y="1567.76" width="61.8" height="29.88" fill="#ff6d00"/>
<rect x="1672.0" y="1597.04" width="61.8" height="29.88" fill="#ff8500"/>
<rect x="1672.0" y="1626.33" width="61.8" height="29.88" fill="#ff9d00"/>
<rect x="1672.0" y="1655.61" width="61.8" height="29.88" fill="#ffb500"/>
<rect x="1672.0" y="1684.89" width="61.8" height="29.88" fill="#ffce00"/>
<rect x="1672.0" y="1714.17" width="61.8" height="29.88" fill="#ffe600"/>
<rect x="1672.0" y="1743.46" width="61.8" height="29.88" fill="#effe07"/>
<rect x="1672.0" y="1772.74" width="61.8" height="29.88" fill="#daff1c"/>
<rect x="1672.0" y="1802.02" width="61.8" height="29.88" fill="#c5ff32"/>
<rect x="1672.0" y="1831.30" width="61.8" height="29.88" fill="#b0ff47"/>
<rect x="1672.0" y="1860.59" width="61.8" height="29.88" fill="#9bff5c"/>
<rect x="1672.0" y="1889.87" width="61.8" height="29.88" fill="#86ff71"/>
<rect x="1672.0" y="1919.15" width="61.8" height="29.88" fill="#71ff86"/>
<rect x="1672.0" y="1948.43" width="61.8" height="29.88" fill="#5cff9b"/>
<rect x="1672.0" y="1977.72" width="61.8" height="29.88" fill="#47ffb0"/>
<rect x="1672.0" y="2007.00" width="61.8" height="29.88" fill="#32ffc5"/>
<rect x="1672.0" y="2036.28" width="61.8" height="29.88" fill="#1cffda"/>
<rect x="1672.0" y="2065.56" width="61.8" height="29.88" fill="#07efef"/>
<rect x="1672.0" y="2094.85" width="61.8" height="29.88" fill="#00d4ff"/>
<rect x="1672.0" y="2124.13" width="61.8" height="29.88" fill="#00baff"/>
<rect x="1672.0" y="2153.41" width="61.8" height="29.88" fill="#00a0ff"/>
<rect x="1672.0" y="2182.69" width="61.8" height="29.88" fill="#0086ff"/>
<rect x="1672.0" y="2211.98" width="61.8" height="29.88" fill="#006cff"/>
<rect x="1672.0" y="2241.26" width="61.8" height="29.88" fill="#0052ff"/>
<rect x="1672.0" y="2270.54" width="61.8" height="29.88" fill="#0038ff"/>
<rect x="1672.0" y="2299.82" width="61.8" height="29.88" fill="#001dff"/>
<rect x="1672.0" y="2329.11" width="61.8" height="29.88" fill="#0003ff"/>
<rect x="1672.0" y="2358.39" width="61.8" height="29.88" fill="#0000f6"/>
<rect x="1672.0" y="2387.67" width="61.8" height="29.88" fill="#0000d9"/>
<rect x="1672.0" y="2416.95" width="61.8" height="29.88" fill="#0000bb"/>
<rect x="1672.0" y="2446.24" width="61.8" height="29.88" fill="#00009d"/>
<rect x="1672.0" y="2475.52" width="61.8" height="29.88" fill="#000080"/>
<path d="M1672.0 1334.0 L1702.9 1274.5 L1733.8 1334.0 Z" fill="#800000"/>
<path d="M1672.0 2504.3 L1702.9 2564.1 L1733.8 2504.3 Z" fill="#000080"/>
<path d="M1672.0 1333.5 L1702.9 1274.5 L1733.8 1333.5 L1733.8 2504.8 L1702.9 2564.1 L1672.0 2504.8 Z" fill="none" stroke="#1a1a1a" stroke-width="1.3" stroke-linejoin="miter"/>
<line x1="1733.8" y1="2504.8" x2="1741.8" y2="2504.8" stroke="#111" stroke-width="1.8"/>
<text x="1748" y="2525.4" style="font-family:'DejaVu Sans','Liberation Sans',sans-serif;font-size:56px" fill="#000">45</text>
<line x1="1733.8" y1="2358.4" x2="1741.8" y2="2358.4" stroke="#111" stroke-width="1.8"/>
<text x="1748" y="2379.0" style="font-family:'DejaVu Sans','Liberation Sans',sans-serif;font-size:56px" fill="#000">50</text>
<line x1="1733.8" y1="2212.0" x2="1741.8" y2="2212.0" stroke="#111" stroke-width="1.8"/>
<text x="1748" y="2232.6" style="font-family:'DejaVu Sans','Liberation Sans',sans-serif;font-size:56px" fill="#000">55</text>
<line x1="1733.8" y1="2065.6" x2="1741.8" y2="2065.6" stroke="#111" stroke-width="1.8"/>
<text x="1748" y="2086.2" style="font-family:'DejaVu Sans','Liberation Sans',sans-serif;font-size:56px" fill="#000">60</text>
<line x1="1733.8" y1="1919.2" x2="1741.8" y2="1919.2" stroke="#111" stroke-width="1.8"/>
<text x="1748" y="1939.8" style="font-family:'DejaVu Sans','Liberation Sans',sans-serif;font-size:56px" fill="#000">65</text>
<line x1="1733.8" y1="1772.7" x2="1741.8" y2="1772.7" stroke="#111" stroke-width="1.8"/>
<text x="1748" y="1793.3" style="font-family:'DejaVu Sans','Liberation Sans',sans-serif;font-size:56px" fill="#000">70</text>
<line x1="1733.8" y1="1626.3" x2="1741.8" y2="1626.3" stroke="#111" stroke-width="1.8"/>
<text x="1748" y="1646.9" style="font-family:'DejaVu Sans','Liberation Sans',sans-serif;font-size:56px" fill="#000">75</text>
<line x1="1733.8" y1="1479.9" x2="1741.8" y2="1479.9" stroke="#111" stroke-width="1.8"/>
<text x="1748" y="1500.5" style="font-family:'DejaVu Sans','Liberation Sans',sans-serif;font-size:56px" fill="#000">80</text>
<line x1="1733.8" y1="1333.5" x2="1741.8" y2="1333.5" stroke="#111" stroke-width="1.8"/>
<text x="1748" y="1354.1" style="font-family:'DejaVu Sans','Liberation Sans',sans-serif;font-size:56px" fill="#000">85</text>
<text transform="translate(1878.2,1918.9) rotate(-90)" text-anchor="middle" style="font-family:'DejaVu Sans','Liberation Sans',sans-serif;font-size:65px" fill="#000">Precipitating Probability (%)</text>
</svg>
</body></html>
